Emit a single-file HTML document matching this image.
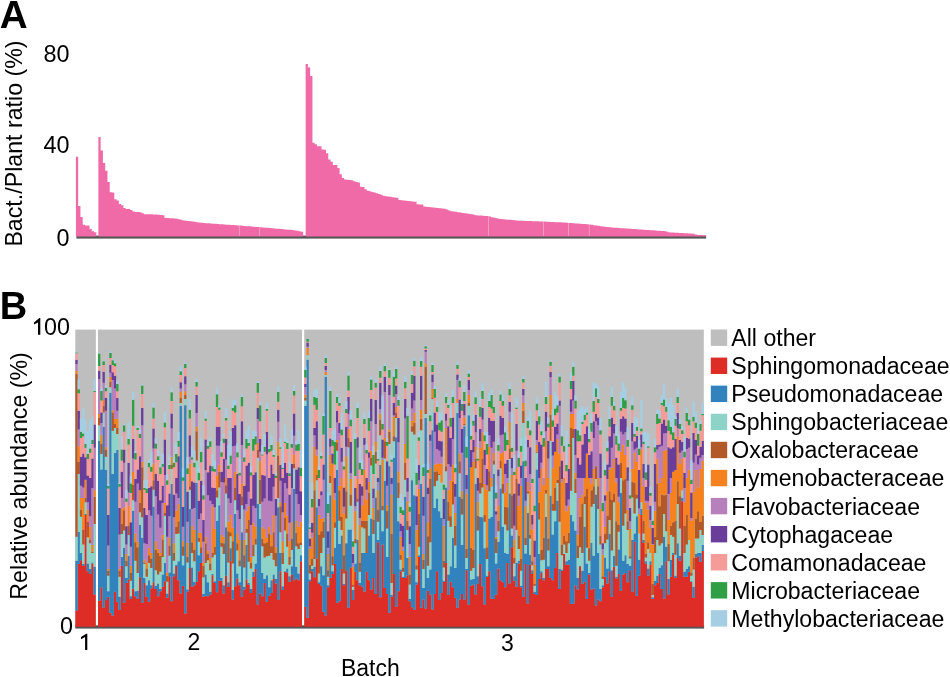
<!DOCTYPE html>
<html><head><meta charset="utf-8"><title>Figure</title>
<style>
html,body{margin:0;padding:0;background:#fff;overflow:hidden;}
svg{display:block;will-change:transform;}
text{font-family:"Liberation Sans",sans-serif;fill:#000;}
.r{font-size:23px;}
.b{font-size:38px;font-weight:bold;}
</style></head>
<body>
<svg width="950" height="677" viewBox="0 0 950 677">
<rect width="950" height="677" fill="#fff"/>
<text class="b" style="font-size:38.6px" x="-0.3" y="27.8">A</text>
<text class="b" style="font-size:38px" x="-0.2" y="319.2">B</text>
<text class="r" style="font-size:23.2px" transform="translate(22.4,143.5) rotate(-90)" text-anchor="middle">Bact./Plant ratio (%)</text>
<text class="r" style="font-size:23.4px" x="69.5" y="62" text-anchor="end">80</text>
<text class="r" style="font-size:23.4px" x="69.5" y="153.3" text-anchor="end">40</text>
<text class="r" style="font-size:23.4px" x="69.6" y="245.7" text-anchor="end">0</text>
<rect x="76.4" y="235.6" width="629.7" height="3" fill="#555"/>
<path d="M75.90 236.50L75.90 156.80 L78.17 156.80L78.17 205.90 L80.43 205.90L80.43 217.00 L82.70 217.00L82.70 224.80 L84.97 224.80L84.97 225.40 L87.23 225.40L87.23 225.40 L89.50 225.40L89.50 229.00 L91.77 229.00L91.77 231.20 L94.04 231.20L94.04 232.20 L96.30 232.20L96.30 236.50Z M98.37 236.50L98.37 137.10 L100.65 137.10L100.65 150.40 L102.92 150.40L102.92 163.10 L105.20 163.10L105.20 170.80 L107.47 170.80L107.47 182.10 L109.75 182.10L109.75 192.30 L112.03 192.30L112.03 192.60 L114.30 192.60L114.30 199.30 L116.58 199.30L116.58 200.50 L118.85 200.50L118.85 203.90 L121.13 203.90L121.13 205.30 L123.40 205.30L123.40 208.10 L125.68 208.10L125.68 208.90 L127.96 208.90L127.96 208.90 L130.23 208.90L130.23 210.00 L132.51 210.00L132.51 211.40 L134.78 211.40L134.78 212.06 L137.06 212.06L137.06 212.11 L139.34 212.11L139.34 212.17 L141.61 212.17L141.61 213.25 L143.89 213.25L143.89 214.22 L146.16 214.22L146.16 214.27 L148.44 214.27L148.44 214.31 L150.72 214.31L150.72 214.35 L152.99 214.35L152.99 214.40 L155.27 214.40L155.27 214.58 L157.54 214.58L157.54 214.76 L159.82 214.76L159.82 214.95 L162.09 214.95L162.09 215.13 L164.37 215.13L164.37 217.71 L166.65 217.71L166.65 217.92 L168.92 217.92L168.92 218.13 L171.20 218.13L171.20 218.34 L173.47 218.34L173.47 218.55 L175.75 218.55L175.75 218.76 L178.03 218.76L178.03 219.13 L180.30 219.13L180.30 219.82 L182.58 219.82L182.58 220.50 L184.85 220.50L184.85 220.78 L187.13 220.78L187.13 221.05 L189.41 221.05L189.41 221.32 L191.68 221.32L191.68 221.60 L193.96 221.60L193.96 221.87 L196.23 221.87L196.23 222.14 L198.51 222.14L198.51 222.42 L200.78 222.42L200.78 222.65 L203.06 222.65L203.06 222.89 L205.34 222.89L205.34 223.13 L207.61 223.13L207.61 223.37 L209.89 223.37L209.89 223.57 L212.16 223.57L212.16 223.72 L214.44 223.72L214.44 223.87 L216.72 223.87L216.72 224.03 L218.99 224.03L218.99 224.18 L221.27 224.18L221.27 224.33 L223.54 224.33L223.54 224.48 L225.82 224.48L225.82 224.63 L228.10 224.63L228.10 224.79 L230.37 224.79L230.37 224.94 L232.65 224.94L232.65 225.09 L234.92 225.09L234.92 225.24 L237.20 225.24L237.20 225.40 L239.48 225.40L239.48 225.58 L241.75 225.58L241.75 225.77 L244.03 225.77L244.03 225.95 L246.30 225.95L246.30 226.14 L248.58 226.14L248.58 226.33 L250.85 226.33L250.85 226.51 L253.13 226.51L253.13 226.70 L255.41 226.70L255.41 226.88 L257.68 226.88L257.68 227.07 L259.96 227.07L259.96 227.26 L262.23 227.26L262.23 227.44 L264.51 227.44L264.51 227.63 L266.79 227.63L266.79 227.83 L269.06 227.83L269.06 228.04 L271.34 228.04L271.34 228.24 L273.61 228.24L273.61 228.45 L275.89 228.45L275.89 228.65 L278.17 228.65L278.17 228.85 L280.44 228.85L280.44 229.06 L282.72 229.06L282.72 229.26 L284.99 229.26L284.99 229.47 L287.27 229.47L287.27 229.67 L289.54 229.67L289.54 229.87 L291.82 229.87L291.82 230.12 L294.10 230.12L294.10 230.43 L296.37 230.43L296.37 230.73 L298.65 230.73L298.65 231.27 L300.92 231.27L300.92 231.87 L303.20 231.87L303.20 236.50Z M305.65 236.50L305.65 64.00 L307.91 64.00L307.91 67.60 L310.17 67.60L310.17 76.00 L312.44 76.00L312.44 142.82 L314.70 142.82L314.70 144.22 L316.96 144.22L316.96 146.16 L319.22 146.16L319.22 146.26 L321.49 146.26L321.49 149.57 L323.75 149.57L323.75 149.68 L326.01 149.68L326.01 153.19 L328.27 153.19L328.27 159.39 L330.54 159.39L330.54 161.63 L332.80 161.63L332.80 164.95 L335.06 164.95L335.06 165.06 L337.32 165.06L337.32 168.06 L339.59 168.06L339.59 174.17 L341.85 174.17L341.85 177.92 L344.11 177.92L344.11 179.61 L346.37 179.61L346.37 179.82 L348.64 179.82L348.64 180.03 L350.90 180.03L350.90 180.24 L353.16 180.24L353.16 181.29 L355.42 181.29L355.42 181.95 L357.69 181.95L357.69 182.62 L359.95 182.62L359.95 186.81 L362.21 186.81L362.21 186.98 L364.47 186.98L364.47 189.21 L366.74 189.21L366.74 190.76 L369.00 190.76L369.00 191.36 L371.26 191.36L371.26 191.96 L373.52 191.96L373.52 192.56 L375.79 192.56L375.79 193.22 L378.05 193.22L378.05 194.03 L380.31 194.03L380.31 194.84 L382.57 194.84L382.57 195.64 L384.84 195.64L384.84 196.18 L387.10 196.18L387.10 196.50 L389.36 196.50L389.36 196.83 L391.62 196.83L391.62 197.15 L393.88 197.15L393.88 197.47 L396.15 197.47L396.15 197.80 L398.41 197.80L398.41 200.06 L400.67 200.06L400.67 200.29 L402.93 200.29L402.93 200.53 L405.20 200.53L405.20 200.76 L407.46 200.76L407.46 201.00 L409.72 201.00L409.72 201.23 L411.98 201.23L411.98 201.47 L414.25 201.47L414.25 201.70 L416.51 201.70L416.51 204.33 L418.77 204.33L418.77 204.44 L421.03 204.44L421.03 204.54 L423.30 204.54L423.30 206.58 L425.56 206.58L425.56 206.83 L427.82 206.83L427.82 207.08 L430.08 207.08L430.08 207.33 L432.35 207.33L432.35 207.58 L434.61 207.58L434.61 207.83 L436.87 207.83L436.87 208.07 L439.13 208.07L439.13 208.32 L441.40 208.32L441.40 208.57 L443.66 208.57L443.66 208.82 L445.92 208.82L445.92 209.55 L448.18 209.55L448.18 210.50 L450.45 210.50L450.45 211.17 L452.71 211.17L452.71 211.51 L454.97 211.51L454.97 211.86 L457.23 211.86L457.23 212.21 L459.50 212.21L459.50 212.56 L461.76 212.56L461.76 212.91 L464.02 212.91L464.02 213.25 L466.28 213.25L466.28 213.60 L468.54 213.60L468.54 213.98 L470.81 213.98L470.81 214.36 L473.07 214.36L473.07 214.74 L475.33 214.74L475.33 215.13 L477.59 215.13L477.59 215.39 L479.86 215.39L479.86 215.56 L482.12 215.56L482.12 215.72 L484.38 215.72L484.38 215.89 L486.64 215.89L486.64 216.05 L488.91 216.05L488.91 216.54 L491.17 216.54L491.17 217.15 L493.43 217.15L493.43 217.76 L495.69 217.76L495.69 218.36 L497.96 218.36L497.96 218.74 L500.22 218.74L500.22 218.96 L502.48 218.96L502.48 219.19 L504.74 219.19L504.74 219.41 L507.01 219.41L507.01 219.63 L509.27 219.63L509.27 219.86 L511.53 219.86L511.53 220.08 L513.79 220.08L513.79 220.31 L516.06 220.31L516.06 220.53 L518.32 220.53L518.32 220.66 L520.58 220.66L520.58 220.74 L522.84 220.74L522.84 220.82 L525.11 220.82L525.11 220.90 L527.37 220.90L527.37 220.98 L529.63 220.98L529.63 221.06 L531.89 221.06L531.89 221.14 L534.16 221.14L534.16 221.22 L536.42 221.22L536.42 221.30 L538.68 221.30L538.68 221.38 L540.94 221.38L540.94 221.46 L543.21 221.46L543.21 221.56 L545.47 221.56L545.47 221.67 L547.73 221.67L547.73 221.79 L549.99 221.79L549.99 221.90 L552.25 221.90L552.25 222.02 L554.52 222.02L554.52 222.13 L556.78 222.13L556.78 222.25 L559.04 222.25L559.04 222.36 L561.30 222.36L561.30 222.48 L563.57 222.48L563.57 222.59 L565.83 222.59L565.83 222.71 L568.09 222.71L568.09 222.89 L570.35 222.89L570.35 223.06 L572.62 223.06L572.62 223.24 L574.88 223.24L574.88 223.41 L577.14 223.41L577.14 223.59 L579.40 223.59L579.40 223.77 L581.67 223.77L581.67 223.94 L583.93 223.94L583.93 224.12 L586.19 224.12L586.19 224.29 L588.45 224.29L588.45 224.53 L590.72 224.53L590.72 224.85 L592.98 224.85L592.98 225.17 L595.24 225.17L595.24 225.50 L597.50 225.50L597.50 225.82 L599.77 225.82L599.77 226.14 L602.03 226.14L602.03 226.47 L604.29 226.47L604.29 226.79 L606.55 226.79L606.55 227.11 L608.82 227.11L608.82 227.36 L611.08 227.36L611.08 227.52 L613.34 227.52L613.34 227.67 L615.60 227.67L615.60 227.82 L617.87 227.82L617.87 227.97 L620.13 227.97L620.13 228.13 L622.39 228.13L622.39 228.28 L624.65 228.28L624.65 228.43 L626.91 228.43L626.91 228.58 L629.18 228.58L629.18 228.74 L631.44 228.74L631.44 228.89 L633.70 228.89L633.70 229.05 L635.96 229.05L635.96 229.21 L638.23 229.21L638.23 229.38 L640.49 229.38L640.49 229.55 L642.75 229.55L642.75 229.72 L645.01 229.72L645.01 229.88 L647.28 229.88L647.28 230.05 L649.54 230.05L649.54 230.19 L651.80 230.19L651.80 230.34 L654.06 230.34L654.06 230.49 L656.33 230.49L656.33 230.63 L658.59 230.63L658.59 230.78 L660.85 230.78L660.85 230.93 L663.11 230.93L663.11 231.07 L665.38 231.07L665.38 231.40 L667.64 231.40L667.64 232.35 L669.90 232.35L669.90 232.46 L672.16 232.46L672.16 232.58 L674.43 232.58L674.43 232.70 L676.69 232.70L676.69 232.82 L678.95 232.82L678.95 232.93 L681.21 232.93L681.21 233.05 L683.48 233.05L683.48 233.17 L685.74 233.17L685.74 233.29 L688.00 233.29L688.00 233.40 L690.26 233.40L690.26 233.52 L692.53 233.52L692.53 233.64 L694.79 233.64L694.79 234.49 L697.05 234.49L697.05 234.99 L699.31 234.99L699.31 235.11 L701.58 235.11L701.58 235.22 L703.84 235.22L703.84 235.34 L706.10 235.34L706.10 236.50Z" fill="#f06aa8"/>
<rect x="238.95" y="225.6" width="0.7" height="10.2" fill="#fff" opacity="0.45"/>
<rect x="259.05" y="227.2" width="0.7" height="8.6" fill="#fff" opacity="0.45"/>
<rect x="488.15" y="216.3" width="0.7" height="19.5" fill="#fff" opacity="0.45"/>
<rect x="543.05" y="221.6" width="0.7" height="14.2" fill="#fff" opacity="0.45"/>
<rect x="568.15" y="222.9" width="0.7" height="12.9" fill="#fff" opacity="0.45"/>
<rect x="588.85" y="224.6" width="0.7" height="11.2" fill="#fff" opacity="0.45"/>
<rect x="75.30" y="329.60" width="628.50" height="297.20" fill="#bebebe"/>
<rect x="95.85" y="328" width="2.12" height="299" fill="#fff"/>
<rect x="302" y="328" width="2.2" height="299" fill="#fff"/>
<rect x="75.3" y="625.3" width="628.8" height="3.3" fill="#555"/>
<path fill="#de2d26" d="M75.33 610.61h2.31v16.19h-2.31zM77.60 564.08h2.31v62.72h-2.31zM79.87 560.20h2.31v66.60h-2.31zM82.14 565.74h2.31v61.06h-2.31zM84.41 515.11h2.31v111.69h-2.31zM86.68 571.28h2.31v55.52h-2.31zM88.95 574.05h2.31v52.75h-2.31zM91.22 563.52h2.31v63.28h-2.31zM93.49 594.54h2.31v32.26h-2.31zM98.00 600.64h2.31v26.16h-2.31zM100.27 587.34h2.31v39.46h-2.31zM102.53 607.84h2.31v18.96h-2.31zM104.80 600.08h2.31v26.72h-2.31zM107.07 596.76h2.31v30.04h-2.31zM109.33 612.82h2.31v13.98h-2.31zM111.60 615.59h2.31v11.21h-2.31zM113.87 591.77h2.31v35.03h-2.31zM116.13 601.74h2.31v25.06h-2.31zM118.40 610.05h2.31v16.75h-2.31zM120.67 565.74h2.31v61.06h-2.31zM122.93 602.85h2.31v23.95h-2.31zM125.20 582.91h2.31v43.89h-2.31zM127.47 579.59h2.31v47.21h-2.31zM129.73 598.97h2.31v27.83h-2.31zM132.00 588.45h2.31v38.35h-2.31zM134.27 596.21h2.31v30.59h-2.31zM136.53 598.97h2.31v27.83h-2.31zM138.80 577.37h2.31v49.43h-2.31zM141.07 602.85h2.31v23.95h-2.31zM143.33 582.91h2.31v43.89h-2.31zM145.60 596.76h2.31v30.04h-2.31zM147.87 601.74h2.31v25.06h-2.31zM150.13 588.45h2.31v38.35h-2.31zM152.40 582.36h2.31v44.44h-2.31zM154.67 589.00h2.31v37.80h-2.31zM156.93 596.21h2.31v30.59h-2.31zM159.20 591.22h2.31v35.58h-2.31zM161.47 586.79h2.31v40.01h-2.31zM163.73 581.25h2.31v45.55h-2.31zM166.00 597.87h2.31v28.93h-2.31zM168.27 576.26h2.31v50.54h-2.31zM170.53 601.19h2.31v25.61h-2.31zM172.80 576.26h2.31v50.54h-2.31zM175.07 565.74h2.31v61.06h-2.31zM177.33 580.14h2.31v46.66h-2.31zM179.60 593.44h2.31v33.36h-2.31zM181.87 585.68h2.31v41.12h-2.31zM184.13 613.38h2.31v13.42h-2.31zM186.40 591.77h2.31v35.03h-2.31zM188.67 567.96h2.31v58.84h-2.31zM190.93 586.79h2.31v40.01h-2.31zM193.20 585.13h2.31v41.67h-2.31zM195.47 581.80h2.31v45.00h-2.31zM197.73 571.28h2.31v55.52h-2.31zM200.00 562.97h2.31v63.83h-2.31zM202.27 596.76h2.31v30.04h-2.31zM204.53 595.65h2.31v31.15h-2.31zM206.80 596.21h2.31v30.59h-2.31zM209.07 594.54h2.31v32.26h-2.31zM211.34 575.16h2.31v51.64h-2.31zM213.60 582.91h2.31v43.89h-2.31zM215.87 592.33h2.31v34.47h-2.31zM218.14 580.70h2.31v46.10h-2.31zM220.40 580.70h2.31v46.10h-2.31zM222.67 593.44h2.31v33.36h-2.31zM224.94 575.71h2.31v51.09h-2.31zM227.20 586.79h2.31v40.01h-2.31zM229.47 561.31h2.31v65.49h-2.31zM231.74 599.53h2.31v27.27h-2.31zM234.00 586.23h2.31v40.57h-2.31zM236.27 578.48h2.31v48.32h-2.31zM238.54 585.13h2.31v41.67h-2.31zM240.80 596.76h2.31v30.04h-2.31zM243.07 589.56h2.31v37.24h-2.31zM245.34 579.59h2.31v47.21h-2.31zM247.60 584.57h2.31v42.23h-2.31zM249.87 592.88h2.31v33.92h-2.31zM252.14 576.82h2.31v49.98h-2.31zM254.40 569.06h2.31v57.74h-2.31zM256.67 604.51h2.31v22.29h-2.31zM258.94 593.44h2.31v33.36h-2.31zM261.20 596.21h2.31v30.59h-2.31zM263.47 582.91h2.31v43.89h-2.31zM265.74 601.74h2.31v25.06h-2.31zM268.00 595.65h2.31v31.15h-2.31zM270.27 592.88h2.31v33.92h-2.31zM272.54 579.03h2.31v47.77h-2.31zM274.80 583.47h2.31v43.33h-2.31zM277.07 600.08h2.31v26.72h-2.31zM279.34 571.28h2.31v55.52h-2.31zM281.60 590.11h2.31v36.69h-2.31zM283.87 571.83h2.31v54.97h-2.31zM286.14 572.39h2.31v54.41h-2.31zM288.40 581.80h2.31v45.00h-2.31zM290.67 574.60h2.31v52.20h-2.31zM292.94 580.14h2.31v46.66h-2.31zM295.20 578.48h2.31v48.32h-2.31zM297.47 580.14h2.31v46.66h-2.31zM299.74 561.31h2.31v65.49h-2.31zM304.20 606.73h2.31v20.07h-2.31zM306.47 617.81h2.31v8.99h-2.31zM308.74 581.25h2.31v45.55h-2.31zM311.01 571.28h2.31v55.52h-2.31zM313.28 577.37h2.31v49.43h-2.31zM315.55 558.54h2.31v68.26h-2.31zM317.82 584.02h2.31v42.78h-2.31zM320.09 585.68h2.31v41.12h-2.31zM322.36 611.71h2.31v15.09h-2.31zM324.63 615.59h2.31v11.21h-2.31zM326.90 587.34h2.31v39.46h-2.31zM329.18 577.93h2.31v48.87h-2.31zM331.45 574.05h2.31v52.75h-2.31zM333.72 564.08h2.31v62.72h-2.31zM335.99 602.85h2.31v23.95h-2.31zM338.26 601.19h2.31v25.61h-2.31zM340.53 569.06h2.31v57.74h-2.31zM342.80 585.13h2.31v41.67h-2.31zM345.07 570.17h2.31v56.63h-2.31zM347.34 607.84h2.31v18.96h-2.31zM349.61 567.40h2.31v59.40h-2.31zM351.88 600.08h2.31v26.72h-2.31zM354.15 571.83h2.31v54.97h-2.31zM356.42 580.14h2.31v46.66h-2.31zM358.69 585.13h2.31v41.67h-2.31zM360.96 586.79h2.31v40.01h-2.31zM363.23 591.77h2.31v35.03h-2.31zM365.50 571.83h2.31v54.97h-2.31zM367.77 580.14h2.31v46.66h-2.31zM370.04 589.56h2.31v37.24h-2.31zM372.31 577.93h2.31v48.87h-2.31zM374.59 593.99h2.31v32.81h-2.31zM376.86 542.25h2.31v84.55h-2.31zM379.13 597.31h2.31v29.49h-2.31zM381.40 544.47h2.31v82.33h-2.31zM383.67 587.90h2.31v38.90h-2.31zM385.94 593.99h2.31v32.81h-2.31zM388.21 612.82h2.31v13.98h-2.31zM390.48 596.76h2.31v30.04h-2.31zM392.75 574.05h2.31v52.75h-2.31zM395.02 606.73h2.31v20.07h-2.31zM397.29 591.22h2.31v35.58h-2.31zM399.56 571.28h2.31v55.52h-2.31zM401.83 577.93h2.31v48.87h-2.31zM404.10 577.93h2.31v48.87h-2.31zM406.37 575.16h2.31v51.64h-2.31zM408.64 601.19h2.31v25.61h-2.31zM410.91 607.28h2.31v19.52h-2.31zM413.18 610.05h2.31v16.75h-2.31zM415.45 584.57h2.31v42.23h-2.31zM417.73 556.88h2.31v69.92h-2.31zM420.00 607.84h2.31v18.96h-2.31zM422.27 599.53h2.31v27.27h-2.31zM424.54 608.39h2.31v18.41h-2.31zM426.81 590.67h2.31v36.13h-2.31zM429.08 594.54h2.31v32.26h-2.31zM431.35 609.50h2.31v17.30h-2.31zM433.62 593.99h2.31v32.81h-2.31zM435.89 571.28h2.31v55.52h-2.31zM438.16 600.08h2.31v26.72h-2.31zM440.43 592.88h2.31v33.92h-2.31zM442.70 581.80h2.31v45.00h-2.31zM444.97 562.97h2.31v63.83h-2.31zM447.24 595.10h2.31v31.70h-2.31zM449.51 581.80h2.31v45.00h-2.31zM451.78 587.34h2.31v39.46h-2.31zM454.05 597.87h2.31v28.93h-2.31zM456.32 607.84h2.31v18.96h-2.31zM458.59 599.53h2.31v27.27h-2.31zM460.86 593.99h2.31v32.81h-2.31zM463.13 599.53h2.31v27.27h-2.31zM465.41 570.17h2.31v56.63h-2.31zM467.68 604.51h2.31v22.29h-2.31zM469.95 585.68h2.31v41.12h-2.31zM472.22 584.57h2.31v42.23h-2.31zM474.49 594.54h2.31v32.26h-2.31zM476.76 584.02h2.31v42.78h-2.31zM479.03 564.08h2.31v62.72h-2.31zM481.30 586.23h2.31v40.57h-2.31zM483.57 604.51h2.31v22.29h-2.31zM485.84 576.82h2.31v49.98h-2.31zM488.11 571.28h2.31v55.52h-2.31zM490.38 598.42h2.31v28.38h-2.31zM492.65 598.97h2.31v27.83h-2.31zM494.92 594.54h2.31v32.26h-2.31zM497.19 568.51h2.31v58.29h-2.31zM499.46 580.14h2.31v46.66h-2.31zM501.73 582.36h2.31v44.44h-2.31zM504.00 587.34h2.31v39.46h-2.31zM506.27 562.97h2.31v63.83h-2.31zM508.55 583.47h2.31v43.33h-2.31zM510.82 547.24h2.31v79.56h-2.31zM513.09 580.70h2.31v46.10h-2.31zM515.36 586.79h2.31v40.01h-2.31zM517.63 563.52h2.31v63.28h-2.31zM519.90 587.34h2.31v39.46h-2.31zM522.17 596.76h2.31v30.04h-2.31zM524.44 564.08h2.31v62.72h-2.31zM526.71 603.41h2.31v23.39h-2.31zM528.98 564.63h2.31v62.17h-2.31zM531.25 574.05h2.31v52.75h-2.31zM533.52 593.99h2.31v32.81h-2.31zM535.79 595.10h2.31v31.70h-2.31zM538.06 579.03h2.31v47.77h-2.31zM540.33 572.39h2.31v54.41h-2.31zM542.60 580.14h2.31v46.66h-2.31zM544.87 569.06h2.31v57.74h-2.31zM547.14 569.06h2.31v57.74h-2.31zM549.41 577.93h2.31v48.87h-2.31zM551.68 580.14h2.31v46.66h-2.31zM553.96 567.96h2.31v58.84h-2.31zM556.23 553.00h2.31v73.80h-2.31zM558.50 589.00h2.31v37.80h-2.31zM560.77 570.73h2.31v56.07h-2.31zM563.04 554.11h2.31v72.69h-2.31zM565.31 564.63h2.31v62.17h-2.31zM567.58 564.63h2.31v62.17h-2.31zM569.85 603.96h2.31v22.84h-2.31zM572.12 603.41h2.31v23.39h-2.31zM574.39 585.13h2.31v41.67h-2.31zM576.66 589.56h2.31v37.24h-2.31zM578.93 566.29h2.31v60.51h-2.31zM581.20 584.02h2.31v42.78h-2.31zM583.47 581.80h2.31v45.00h-2.31zM585.74 598.97h2.31v27.83h-2.31zM588.01 574.60h2.31v52.20h-2.31zM590.28 589.56h2.31v37.24h-2.31zM592.55 588.45h2.31v38.35h-2.31zM594.82 605.62h2.31v21.18h-2.31zM597.09 599.53h2.31v27.27h-2.31zM599.37 601.19h2.31v25.61h-2.31zM601.64 587.34h2.31v39.46h-2.31zM603.91 576.82h2.31v49.98h-2.31zM606.18 583.47h2.31v43.33h-2.31zM608.45 571.28h2.31v55.52h-2.31zM610.72 596.76h2.31v30.04h-2.31zM612.99 566.85h2.31v59.95h-2.31zM615.26 578.48h2.31v48.32h-2.31zM617.53 574.05h2.31v52.75h-2.31zM619.80 590.67h2.31v36.13h-2.31zM622.07 574.60h2.31v52.20h-2.31zM624.34 572.94h2.31v53.86h-2.31zM626.61 582.36h2.31v44.44h-2.31zM628.88 570.17h2.31v56.63h-2.31zM631.15 591.77h2.31v35.03h-2.31zM633.42 541.70h2.31v85.10h-2.31zM635.69 595.65h2.31v31.15h-2.31zM637.96 575.71h2.31v51.09h-2.31zM640.23 515.11h2.31v111.69h-2.31zM642.50 542.81h2.31v83.99h-2.31zM644.78 563.52h2.31v63.28h-2.31zM647.05 575.71h2.31v51.09h-2.31zM649.32 564.63h2.31v62.17h-2.31zM651.59 598.97h2.31v27.83h-2.31zM653.86 585.13h2.31v41.67h-2.31zM656.13 582.91h2.31v43.89h-2.31zM658.40 574.05h2.31v52.75h-2.31zM660.67 589.00h2.31v37.80h-2.31zM662.94 598.42h2.31v28.38h-2.31zM665.21 561.31h2.31v65.49h-2.31zM667.48 594.54h2.31v32.26h-2.31zM669.75 576.82h2.31v49.98h-2.31zM672.02 554.66h2.31v72.14h-2.31zM674.29 577.93h2.31v48.87h-2.31zM676.56 557.99h2.31v68.81h-2.31zM678.83 560.75h2.31v66.05h-2.31zM681.10 501.26h2.31v125.54h-2.31zM683.37 576.82h2.31v49.98h-2.31zM685.64 576.82h2.31v49.98h-2.31zM687.91 571.83h2.31v54.97h-2.31zM690.18 581.80h2.31v45.00h-2.31zM692.46 597.87h2.31v28.93h-2.31zM694.73 557.43h2.31v69.37h-2.31zM697.00 556.32h2.31v70.48h-2.31zM699.27 561.86h2.31v64.94h-2.31zM701.54 551.12h2.31v75.68h-2.31z"/>
<path fill="#3182bd" d="M75.33 560.75h2.31v49.86h-2.31zM77.60 531.73h2.31v32.35h-2.31zM79.87 553.00h2.31v7.20h-2.31zM82.14 564.08h2.31v1.66h-2.31zM84.41 514.00h2.31v1.11h-2.31zM86.68 563.52h2.31v7.76h-2.31zM88.95 569.06h2.31v4.99h-2.31zM91.22 562.42h2.31v1.10h-2.31zM93.49 566.85h2.31v27.69h-2.31zM98.00 440.67h2.31v159.97h-2.31zM100.27 469.47h2.31v117.87h-2.31zM102.53 426.82h2.31v181.02h-2.31zM104.80 470.02h2.31v130.06h-2.31zM107.07 591.22h2.31v5.54h-2.31zM109.33 392.81h2.31v220.01h-2.31zM111.60 473.90h2.31v141.69h-2.31zM113.87 452.85h2.31v138.92h-2.31zM116.13 450.08h2.31v151.66h-2.31zM118.40 596.76h2.31v13.29h-2.31zM120.67 556.88h2.31v8.86h-2.31zM122.93 547.79h2.31v55.06h-2.31zM125.20 577.93h2.31v4.98h-2.31zM127.47 555.77h2.31v23.82h-2.31zM129.73 596.21h2.31v2.76h-2.31zM132.00 510.68h2.31v77.77h-2.31zM134.27 591.22h2.31v4.99h-2.31zM136.53 590.67h2.31v8.30h-2.31zM138.80 525.08h2.31v52.29h-2.31zM141.07 537.82h2.31v65.03h-2.31zM143.33 577.93h2.31v4.98h-2.31zM145.60 585.13h2.31v11.63h-2.31zM147.87 580.14h2.31v21.60h-2.31zM150.13 585.13h2.31v3.32h-2.31zM152.40 506.80h2.31v75.56h-2.31zM154.67 585.68h2.31v3.32h-2.31zM156.93 583.47h2.31v12.74h-2.31zM159.20 589.00h2.31v2.22h-2.31zM161.47 574.60h2.31v12.19h-2.31zM163.73 562.97h2.31v18.28h-2.31zM166.00 593.44h2.31v4.43h-2.31zM168.27 572.39h2.31v3.87h-2.31zM170.53 484.09h2.31v117.10h-2.31zM172.80 573.49h2.31v2.77h-2.31zM175.07 564.63h2.31v1.11h-2.31zM177.33 561.31h2.31v18.83h-2.31zM179.60 405.77h2.31v187.67h-2.31zM181.87 565.19h2.31v20.49h-2.31zM184.13 405.22h2.31v208.16h-2.31zM186.40 589.56h2.31v2.21h-2.31zM188.67 509.02h2.31v58.94h-2.31zM190.93 567.40h2.31v19.39h-2.31zM193.20 581.80h2.31v3.33h-2.31zM195.47 482.99h2.31v98.81h-2.31zM197.73 555.22h2.31v16.06h-2.31zM200.00 553.00h2.31v9.97h-2.31zM202.27 593.99h2.31v2.77h-2.31zM204.53 574.60h2.31v21.05h-2.31zM206.80 582.36h2.31v13.85h-2.31zM209.07 591.77h2.31v2.77h-2.31zM211.34 574.05h2.31v1.11h-2.31zM213.60 581.25h2.31v1.66h-2.31zM215.87 520.65h2.31v71.68h-2.31zM218.14 505.14h2.31v75.56h-2.31zM220.40 577.93h2.31v2.77h-2.31zM222.67 585.13h2.31v8.31h-2.31zM224.94 527.30h2.31v48.41h-2.31zM227.20 582.36h2.31v4.43h-2.31zM229.47 548.35h2.31v12.96h-2.31zM231.74 590.11h2.31v9.42h-2.31zM234.00 514.00h2.31v72.23h-2.31zM236.27 573.49h2.31v4.99h-2.31zM238.54 582.36h2.31v2.77h-2.31zM240.80 532.28h2.31v64.48h-2.31zM243.07 586.79h2.31v2.77h-2.31zM245.34 545.02h2.31v34.57h-2.31zM247.60 582.91h2.31v1.66h-2.31zM249.87 589.00h2.31v3.88h-2.31zM252.14 571.83h2.31v4.99h-2.31zM254.40 563.52h2.31v5.54h-2.31zM256.67 504.03h2.31v100.48h-2.31zM258.94 518.99h2.31v74.45h-2.31zM261.20 572.94h2.31v23.27h-2.31zM263.47 579.03h2.31v3.88h-2.31zM265.74 575.16h2.31v26.58h-2.31zM268.00 587.34h2.31v8.31h-2.31zM270.27 580.14h2.31v12.74h-2.31zM272.54 574.60h2.31v4.43h-2.31zM274.80 579.03h2.31v4.44h-2.31zM277.07 507.36h2.31v92.72h-2.31zM279.34 553.00h2.31v18.28h-2.31zM281.60 586.23h2.31v3.88h-2.31zM283.87 571.28h2.31v0.55h-2.31zM286.14 568.51h2.31v3.88h-2.31zM288.40 576.26h2.31v5.54h-2.31zM290.67 566.29h2.31v8.31h-2.31zM292.94 489.08h2.31v91.06h-2.31zM295.20 566.85h2.31v11.63h-2.31zM297.47 573.49h2.31v6.65h-2.31zM299.74 555.22h2.31v6.09h-2.31zM304.20 405.77h2.31v200.96h-2.31zM306.47 359.79h2.31v258.02h-2.31zM308.74 579.59h2.31v1.66h-2.31zM311.01 569.06h2.31v2.22h-2.31zM313.28 566.85h2.31v10.52h-2.31zM315.55 507.36h2.31v51.18h-2.31zM317.82 582.36h2.31v1.66h-2.31zM320.09 566.29h2.31v19.39h-2.31zM322.36 575.16h2.31v36.55h-2.31zM324.63 376.74h2.31v238.85h-2.31zM326.90 585.13h2.31v2.21h-2.31zM329.18 495.17h2.31v82.76h-2.31zM331.45 571.28h2.31v2.77h-2.31zM333.72 547.79h2.31v16.29h-2.31zM335.99 470.02h2.31v132.83h-2.31zM338.26 543.92h2.31v57.27h-2.31zM340.53 535.61h2.31v33.45h-2.31zM342.80 584.02h2.31v1.11h-2.31zM345.07 543.36h2.31v26.81h-2.31zM347.34 529.51h2.31v78.33h-2.31zM349.61 529.51h2.31v37.89h-2.31zM351.88 590.11h2.31v9.97h-2.31zM354.15 563.52h2.31v8.31h-2.31zM356.42 540.04h2.31v40.10h-2.31zM358.69 582.91h2.31v2.22h-2.31zM360.96 553.00h2.31v33.79h-2.31zM363.23 553.00h2.31v38.77h-2.31zM365.50 553.00h2.31v18.83h-2.31zM367.77 535.61h2.31v44.53h-2.31zM370.04 518.44h2.31v71.12h-2.31zM372.31 553.00h2.31v24.93h-2.31zM374.59 497.39h2.31v96.60h-2.31zM376.86 540.04h2.31v2.21h-2.31zM379.13 465.04h2.31v132.27h-2.31zM381.40 531.18h2.31v13.29h-2.31zM383.67 480.77h2.31v107.13h-2.31zM385.94 556.88h2.31v37.11h-2.31zM388.21 466.15h2.31v146.67h-2.31zM390.48 595.10h2.31v1.66h-2.31zM392.75 457.84h2.31v116.21h-2.31zM395.02 437.34h2.31v169.39h-2.31zM397.29 521.21h2.31v70.01h-2.31zM399.56 569.62h2.31v1.66h-2.31zM401.83 576.82h2.31v1.11h-2.31zM404.10 496.83h2.31v81.10h-2.31zM406.37 557.99h2.31v17.17h-2.31zM408.64 598.97h2.31v2.22h-2.31zM410.91 480.22h2.31v127.06h-2.31zM413.18 495.17h2.31v114.88h-2.31zM415.45 582.36h2.31v2.21h-2.31zM417.73 555.22h2.31v1.66h-2.31zM420.00 484.09h2.31v123.75h-2.31zM422.27 587.90h2.31v11.63h-2.31zM424.54 417.96h2.31v190.43h-2.31zM426.81 577.93h2.31v12.74h-2.31zM429.08 569.62h2.31v24.92h-2.31zM431.35 430.14h2.31v179.36h-2.31zM433.62 507.91h2.31v86.08h-2.31zM435.89 498.49h2.31v72.79h-2.31zM438.16 511.23h2.31v88.85h-2.31zM440.43 517.88h2.31v75.00h-2.31zM442.70 580.70h2.31v1.10h-2.31zM444.97 487.42h2.31v75.55h-2.31zM447.24 574.60h2.31v20.50h-2.31zM449.51 566.29h2.31v15.51h-2.31zM451.78 537.82h2.31v49.52h-2.31zM454.05 567.96h2.31v29.91h-2.31zM456.32 412.97h2.31v194.87h-2.31zM458.59 496.83h2.31v102.70h-2.31zM460.86 545.02h2.31v48.97h-2.31zM463.13 426.26h2.31v173.27h-2.31zM465.41 569.06h2.31v1.11h-2.31zM467.68 415.19h2.31v189.32h-2.31zM469.95 579.59h2.31v6.09h-2.31zM472.22 579.03h2.31v5.54h-2.31zM474.49 484.09h2.31v110.45h-2.31zM476.76 576.26h2.31v7.76h-2.31zM479.03 516.77h2.31v47.31h-2.31zM481.30 517.33h2.31v68.90h-2.31zM483.57 548.35h2.31v56.16h-2.31zM485.84 575.71h2.31v1.11h-2.31zM488.11 518.44h2.31v52.84h-2.31zM490.38 516.77h2.31v81.65h-2.31zM492.65 473.90h2.31v125.07h-2.31zM494.92 563.52h2.31v31.02h-2.31zM497.19 541.70h2.31v26.81h-2.31zM499.46 488.52h2.31v91.62h-2.31zM501.73 526.74h2.31v55.62h-2.31zM504.00 553.00h2.31v34.34h-2.31zM506.27 554.11h2.31v8.86h-2.31zM508.55 493.51h2.31v89.96h-2.31zM510.82 535.61h2.31v11.63h-2.31zM513.09 576.26h2.31v4.44h-2.31zM515.36 562.97h2.31v23.82h-2.31zM517.63 560.75h2.31v2.77h-2.31zM519.90 585.68h2.31v1.66h-2.31zM522.17 461.16h2.31v135.60h-2.31zM524.44 553.55h2.31v10.53h-2.31zM526.71 512.90h2.31v90.51h-2.31zM528.98 554.66h2.31v9.97h-2.31zM531.25 570.17h2.31v3.88h-2.31zM533.52 591.77h2.31v2.22h-2.31zM535.79 469.47h2.31v125.63h-2.31zM538.06 554.11h2.31v24.92h-2.31zM540.33 571.28h2.31v1.11h-2.31zM542.60 577.93h2.31v2.21h-2.31zM544.87 516.77h2.31v52.29h-2.31zM547.14 566.29h2.31v2.77h-2.31zM549.41 495.73h2.31v82.20h-2.31zM551.68 534.50h2.31v45.64h-2.31zM553.96 521.21h2.31v46.75h-2.31zM556.23 500.71h2.31v52.29h-2.31zM558.50 569.06h2.31v19.94h-2.31zM560.77 569.62h2.31v1.11h-2.31zM565.31 561.31h2.31v3.32h-2.31zM567.58 559.65h2.31v4.98h-2.31zM569.85 515.11h2.31v88.85h-2.31zM572.12 521.21h2.31v82.20h-2.31zM574.39 530.62h2.31v54.51h-2.31zM576.66 577.93h2.31v11.63h-2.31zM578.93 565.74h2.31v0.55h-2.31zM581.20 570.73h2.31v13.29h-2.31zM583.47 526.74h2.31v55.06h-2.31zM585.74 563.52h2.31v35.45h-2.31zM588.01 572.94h2.31v1.66h-2.31zM590.28 542.81h2.31v46.75h-2.31zM592.55 555.77h2.31v32.68h-2.31zM594.82 494.62h2.31v111.00h-2.31zM597.09 553.00h2.31v46.53h-2.31zM599.37 589.00h2.31v12.19h-2.31zM601.64 585.13h2.31v2.21h-2.31zM603.91 557.43h2.31v19.39h-2.31zM606.18 568.51h2.31v14.96h-2.31zM608.45 533.95h2.31v37.33h-2.31zM610.72 570.17h2.31v26.59h-2.31zM612.99 555.77h2.31v11.08h-2.31zM615.26 576.82h2.31v1.66h-2.31zM617.53 549.45h2.31v24.60h-2.31zM619.80 492.96h2.31v97.71h-2.31zM622.07 560.75h2.31v13.85h-2.31zM624.34 555.22h2.31v17.72h-2.31zM626.61 564.08h2.31v18.28h-2.31zM628.88 565.74h2.31v4.43h-2.31zM631.15 540.04h2.31v51.73h-2.31zM633.42 533.39h2.31v8.31h-2.31zM635.69 516.22h2.31v79.43h-2.31zM637.96 559.65h2.31v16.06h-2.31zM640.23 509.02h2.31v6.09h-2.31zM642.50 540.04h2.31v2.77h-2.31zM644.78 561.31h2.31v2.21h-2.31zM647.05 568.51h2.31v7.20h-2.31zM649.32 561.31h2.31v3.32h-2.31zM651.59 597.31h2.31v1.66h-2.31zM653.86 580.70h2.31v4.43h-2.31zM656.13 575.71h2.31v7.20h-2.31zM658.40 567.96h2.31v6.09h-2.31zM660.67 565.19h2.31v23.81h-2.31zM662.94 536.71h2.31v61.71h-2.31zM665.21 546.69h2.31v14.62h-2.31zM667.48 579.03h2.31v15.51h-2.31zM669.75 559.65h2.31v17.17h-2.31zM672.02 553.00h2.31v1.66h-2.31zM674.29 575.71h2.31v2.22h-2.31zM676.56 543.36h2.31v14.63h-2.31zM678.83 555.77h2.31v4.98h-2.31zM681.10 497.94h2.31v3.32h-2.31zM683.37 571.83h2.31v4.99h-2.31zM685.64 569.06h2.31v7.76h-2.31zM687.91 566.29h2.31v5.54h-2.31zM690.18 581.25h2.31v0.55h-2.31zM692.46 586.79h2.31v11.08h-2.31zM694.73 554.11h2.31v3.32h-2.31zM697.00 553.00h2.31v3.32h-2.31zM699.27 553.00h2.31v8.86h-2.31zM701.54 545.02h2.31v6.10h-2.31z"/>
<path fill="#8dd3c7" d="M75.33 536.71h2.31v24.04h-2.31zM77.60 473.90h2.31v57.83h-2.31zM79.87 516.77h2.31v36.23h-2.31zM82.14 544.47h2.31v19.61h-2.31zM84.41 502.37h2.31v11.63h-2.31zM86.68 537.27h2.31v26.25h-2.31zM88.95 543.36h2.31v25.70h-2.31zM91.22 553.00h2.31v9.42h-2.31zM93.49 523.97h2.31v42.88h-2.31zM98.00 425.16h2.31v15.51h-2.31zM100.27 453.96h2.31v15.51h-2.31zM102.53 412.42h2.31v14.40h-2.31zM104.80 456.73h2.31v13.29h-2.31zM107.07 575.71h2.31v15.51h-2.31zM109.33 387.27h2.31v5.54h-2.31zM111.60 430.70h2.31v43.20h-2.31zM113.87 427.93h2.31v24.92h-2.31zM116.13 434.02h2.31v16.06h-2.31zM118.40 576.82h2.31v19.94h-2.31zM120.67 533.95h2.31v22.93h-2.31zM122.93 530.62h2.31v17.17h-2.31zM125.20 566.29h2.31v11.64h-2.31zM127.47 535.05h2.31v20.72h-2.31zM129.73 580.70h2.31v15.51h-2.31zM132.00 500.16h2.31v10.52h-2.31zM134.27 560.75h2.31v30.47h-2.31zM136.53 572.94h2.31v17.73h-2.31zM138.80 512.34h2.31v12.74h-2.31zM141.07 517.33h2.31v20.49h-2.31zM143.33 564.08h2.31v13.85h-2.31zM145.60 576.82h2.31v8.31h-2.31zM147.87 562.97h2.31v17.17h-2.31zM150.13 567.96h2.31v17.17h-2.31zM152.40 489.63h2.31v17.17h-2.31zM154.67 570.17h2.31v15.51h-2.31zM156.93 574.60h2.31v8.87h-2.31zM159.20 571.83h2.31v17.17h-2.31zM161.47 556.88h2.31v17.72h-2.31zM163.73 515.67h2.31v47.30h-2.31zM166.00 581.80h2.31v11.64h-2.31zM168.27 555.77h2.31v16.62h-2.31zM170.53 468.92h2.31v15.17h-2.31zM172.80 560.75h2.31v12.74h-2.31zM175.07 533.95h2.31v30.68h-2.31zM177.33 533.39h2.31v27.92h-2.31zM179.60 403.00h2.31v2.77h-2.31zM181.87 555.77h2.31v9.42h-2.31zM184.13 398.90h2.31v6.32h-2.31zM186.40 562.42h2.31v27.14h-2.31zM188.67 489.63h2.31v19.39h-2.31zM190.93 553.00h2.31v14.40h-2.31zM193.20 561.31h2.31v20.49h-2.31zM195.47 460.61h2.31v22.38h-2.31zM197.73 541.70h2.31v13.52h-2.31zM202.27 577.37h2.31v16.62h-2.31zM204.53 562.97h2.31v11.63h-2.31zM206.80 560.20h2.31v22.16h-2.31zM209.07 570.17h2.31v21.60h-2.31zM211.34 557.43h2.31v16.62h-2.31zM213.60 554.66h2.31v26.59h-2.31zM215.87 497.39h2.31v23.26h-2.31zM218.14 487.42h2.31v17.72h-2.31zM220.40 546.69h2.31v31.24h-2.31zM222.67 554.11h2.31v31.02h-2.31zM224.94 493.51h2.31v33.79h-2.31zM227.20 562.42h2.31v19.94h-2.31zM229.47 536.16h2.31v12.19h-2.31zM231.74 563.52h2.31v26.59h-2.31zM234.00 500.16h2.31v13.84h-2.31zM236.27 550.56h2.31v22.93h-2.31zM238.54 566.29h2.31v16.07h-2.31zM240.80 505.14h2.31v27.14h-2.31zM243.07 567.40h2.31v19.39h-2.31zM245.34 532.84h2.31v12.18h-2.31zM247.60 561.86h2.31v21.05h-2.31zM249.87 568.51h2.31v20.49h-2.31zM252.14 556.32h2.31v15.51h-2.31zM254.40 544.47h2.31v19.05h-2.31zM256.67 457.84h2.31v46.19h-2.31zM258.94 504.03h2.31v14.96h-2.31zM261.20 546.13h2.31v26.81h-2.31zM263.47 557.43h2.31v21.60h-2.31zM265.74 556.32h2.31v18.84h-2.31zM268.00 555.77h2.31v31.57h-2.31zM270.27 553.00h2.31v27.14h-2.31zM272.54 559.65h2.31v14.95h-2.31zM274.80 566.29h2.31v12.74h-2.31zM277.07 497.94h2.31v9.42h-2.31zM279.34 532.28h2.31v20.72h-2.31zM281.60 564.08h2.31v22.15h-2.31zM283.87 530.62h2.31v40.66h-2.31zM286.14 546.69h2.31v21.82h-2.31zM288.40 564.63h2.31v11.63h-2.31zM290.67 550.01h2.31v16.28h-2.31zM292.94 468.36h2.31v20.72h-2.31zM295.20 546.13h2.31v20.72h-2.31zM297.47 548.90h2.31v24.59h-2.31zM299.74 545.02h2.31v10.20h-2.31zM304.20 400.56h2.31v5.21h-2.31zM306.47 355.14h2.31v4.65h-2.31zM308.74 573.49h2.31v6.10h-2.31zM311.01 565.74h2.31v3.32h-2.31zM313.28 559.09h2.31v7.76h-2.31zM315.55 480.22h2.31v27.14h-2.31zM317.82 573.49h2.31v8.87h-2.31zM320.09 553.00h2.31v13.29h-2.31zM322.36 537.82h2.31v37.34h-2.31zM324.63 375.08h2.31v1.66h-2.31zM326.90 576.82h2.31v8.31h-2.31zM329.18 482.99h2.31v12.18h-2.31zM331.45 565.19h2.31v6.09h-2.31zM333.72 527.85h2.31v19.94h-2.31zM335.99 450.64h2.31v19.38h-2.31zM338.26 520.65h2.31v23.27h-2.31zM340.53 530.07h2.31v5.54h-2.31zM342.80 573.49h2.31v10.53h-2.31zM345.07 518.44h2.31v24.92h-2.31zM347.34 447.31h2.31v82.20h-2.31zM349.61 505.70h2.31v23.81h-2.31zM351.88 586.79h2.31v3.32h-2.31zM354.15 543.36h2.31v20.16h-2.31zM356.42 501.82h2.31v38.22h-2.31zM358.69 571.83h2.31v11.08h-2.31zM360.96 527.30h2.31v25.70h-2.31zM363.23 528.41h2.31v24.59h-2.31zM367.77 515.11h2.31v20.50h-2.31zM370.04 465.59h2.31v52.85h-2.31zM372.31 533.95h2.31v19.05h-2.31zM374.59 463.38h2.31v34.01h-2.31zM376.86 521.76h2.31v18.28h-2.31zM379.13 435.13h2.31v29.91h-2.31zM381.40 510.13h2.31v21.05h-2.31zM383.67 458.39h2.31v22.38h-2.31zM385.94 528.41h2.31v28.47h-2.31zM388.21 443.99h2.31v22.16h-2.31zM390.48 582.91h2.31v12.19h-2.31zM392.75 441.22h2.31v16.62h-2.31zM395.02 417.96h2.31v19.38h-2.31zM397.29 497.94h2.31v23.27h-2.31zM399.56 559.65h2.31v9.97h-2.31zM401.83 571.83h2.31v4.99h-2.31zM404.10 479.66h2.31v17.17h-2.31zM406.37 530.07h2.31v27.92h-2.31zM408.64 584.57h2.31v14.40h-2.31zM410.91 431.80h2.31v48.42h-2.31zM413.18 434.57h2.31v60.60h-2.31zM415.45 569.62h2.31v12.74h-2.31zM417.73 546.69h2.31v8.53h-2.31zM420.00 430.14h2.31v53.95h-2.31zM422.27 569.06h2.31v18.84h-2.31zM424.54 414.08h2.31v3.88h-2.31zM426.81 565.74h2.31v12.19h-2.31zM429.08 542.25h2.31v27.37h-2.31zM431.35 398.90h2.31v31.24h-2.31zM433.62 486.31h2.31v21.60h-2.31zM435.89 480.77h2.31v17.72h-2.31zM438.16 475.01h2.31v36.22h-2.31zM440.43 482.43h2.31v35.45h-2.31zM442.70 567.40h2.31v13.30h-2.31zM444.97 471.13h2.31v16.29h-2.31zM447.24 520.65h2.31v53.95h-2.31zM449.51 526.74h2.31v39.55h-2.31zM451.78 504.59h2.31v33.23h-2.31zM454.05 545.58h2.31v22.38h-2.31zM456.32 403.00h2.31v9.97h-2.31zM458.59 473.35h2.31v23.48h-2.31zM460.86 514.56h2.31v30.46h-2.31zM463.13 425.16h2.31v1.10h-2.31zM465.41 557.99h2.31v11.07h-2.31zM467.68 405.77h2.31v9.42h-2.31zM469.95 570.73h2.31v8.86h-2.31zM472.22 567.96h2.31v11.07h-2.31zM474.49 468.36h2.31v15.73h-2.31zM476.76 530.62h2.31v45.64h-2.31zM479.03 493.51h2.31v23.26h-2.31zM481.30 487.42h2.31v29.91h-2.31zM483.57 521.76h2.31v26.59h-2.31zM485.84 559.09h2.31v16.62h-2.31zM488.11 491.29h2.31v27.15h-2.31zM490.38 486.86h2.31v29.91h-2.31zM492.65 464.48h2.31v9.42h-2.31zM494.92 553.00h2.31v10.52h-2.31zM497.19 531.18h2.31v10.52h-2.31zM499.46 468.36h2.31v20.16h-2.31zM501.73 493.51h2.31v33.23h-2.31zM504.00 524.53h2.31v28.47h-2.31zM506.27 530.62h2.31v23.49h-2.31zM508.55 458.95h2.31v34.56h-2.31zM510.82 528.41h2.31v7.20h-2.31zM513.09 563.52h2.31v12.74h-2.31zM515.36 530.07h2.31v32.90h-2.31zM517.63 548.90h2.31v11.85h-2.31zM519.90 570.73h2.31v14.95h-2.31zM522.17 422.94h2.31v38.22h-2.31zM524.44 545.02h2.31v8.53h-2.31zM526.71 493.51h2.31v19.39h-2.31zM528.98 538.38h2.31v16.28h-2.31zM531.25 565.19h2.31v4.98h-2.31zM533.52 585.68h2.31v6.09h-2.31zM535.79 452.85h2.31v16.62h-2.31zM538.06 519.54h2.31v34.57h-2.31zM540.33 560.20h2.31v11.08h-2.31zM542.60 559.65h2.31v18.28h-2.31zM544.87 493.51h2.31v23.26h-2.31zM547.14 550.56h2.31v15.73h-2.31zM549.41 440.67h2.31v55.06h-2.31zM551.68 510.68h2.31v23.82h-2.31zM553.96 510.68h2.31v10.53h-2.31zM556.23 482.99h2.31v17.72h-2.31zM558.50 521.76h2.31v47.30h-2.31zM560.77 555.22h2.31v14.40h-2.31zM563.04 544.47h2.31v9.64h-2.31zM565.31 553.00h2.31v8.31h-2.31zM567.58 543.36h2.31v16.29h-2.31zM569.85 490.74h2.31v24.37h-2.31zM572.12 437.90h2.31v83.31h-2.31zM574.39 492.96h2.31v37.66h-2.31zM576.66 557.99h2.31v19.94h-2.31zM578.93 547.24h2.31v18.50h-2.31zM581.20 553.00h2.31v17.73h-2.31zM583.47 504.03h2.31v22.71h-2.31zM585.74 547.79h2.31v15.73h-2.31zM588.01 560.75h2.31v12.19h-2.31zM590.28 506.80h2.31v36.01h-2.31zM592.55 504.03h2.31v51.74h-2.31zM594.82 479.11h2.31v15.51h-2.31zM597.09 509.02h2.31v43.98h-2.31zM599.37 544.47h2.31v44.53h-2.31zM601.64 579.03h2.31v6.10h-2.31zM603.91 543.36h2.31v14.07h-2.31zM606.18 539.48h2.31v29.03h-2.31zM608.45 520.10h2.31v13.85h-2.31zM610.72 550.56h2.31v19.61h-2.31zM612.99 502.37h2.31v53.40h-2.31zM615.26 565.74h2.31v11.08h-2.31zM617.53 531.73h2.31v17.72h-2.31zM619.80 478.00h2.31v14.96h-2.31zM622.07 525.64h2.31v35.11h-2.31zM624.34 513.45h2.31v41.77h-2.31zM626.61 530.07h2.31v34.01h-2.31zM628.88 558.54h2.31v7.20h-2.31zM631.15 497.39h2.31v42.65h-2.31zM633.42 513.45h2.31v19.94h-2.31zM635.69 498.49h2.31v17.73h-2.31zM637.96 533.39h2.31v26.26h-2.31zM640.23 502.37h2.31v6.65h-2.31zM642.50 533.39h2.31v6.65h-2.31zM644.78 557.43h2.31v3.88h-2.31zM647.05 548.90h2.31v19.61h-2.31zM649.32 553.00h2.31v8.31h-2.31zM651.59 595.10h2.31v2.21h-2.31zM653.86 553.00h2.31v27.70h-2.31zM656.13 540.04h2.31v35.67h-2.31zM658.40 545.58h2.31v22.38h-2.31zM660.67 543.36h2.31v21.83h-2.31zM662.94 514.00h2.31v22.71h-2.31zM665.21 531.18h2.31v15.51h-2.31zM667.48 561.31h2.31v17.72h-2.31zM669.75 535.05h2.31v24.60h-2.31zM672.02 536.71h2.31v16.29h-2.31zM674.29 554.66h2.31v21.05h-2.31zM676.56 504.03h2.31v39.33h-2.31zM678.83 528.41h2.31v27.36h-2.31zM681.10 490.19h2.31v7.75h-2.31zM683.37 553.00h2.31v18.83h-2.31zM685.64 544.47h2.31v24.59h-2.31zM687.91 540.04h2.31v26.25h-2.31zM690.18 575.71h2.31v5.54h-2.31zM692.46 569.62h2.31v17.17h-2.31zM694.73 538.38h2.31v15.73h-2.31zM697.00 538.38h2.31v14.62h-2.31zM699.27 530.07h2.31v22.93h-2.31zM701.54 535.05h2.31v9.97h-2.31z"/>
<path fill="#b15928" d="M75.33 373.97h2.31v162.74h-2.31zM77.60 461.71h2.31v12.19h-2.31zM79.87 509.57h2.31v7.20h-2.31zM82.14 530.07h2.31v14.40h-2.31zM84.41 497.94h2.31v4.43h-2.31zM86.68 521.76h2.31v15.51h-2.31zM88.95 539.48h2.31v3.88h-2.31zM91.22 551.67h2.31v1.33h-2.31zM93.49 496.83h2.31v27.14h-2.31zM98.00 417.40h2.31v7.76h-2.31zM100.27 443.99h2.31v9.97h-2.31zM102.53 405.77h2.31v6.65h-2.31zM104.80 450.08h2.31v6.65h-2.31zM107.07 570.73h2.31v4.98h-2.31zM109.33 381.73h2.31v5.54h-2.31zM111.60 412.42h2.31v18.28h-2.31zM113.87 424.05h2.31v3.88h-2.31zM116.13 427.93h2.31v6.09h-2.31zM118.40 570.73h2.31v6.09h-2.31zM120.67 523.97h2.31v9.98h-2.31zM122.93 510.13h2.31v20.49h-2.31zM125.20 560.75h2.31v5.54h-2.31zM127.47 525.64h2.31v9.41h-2.31zM129.73 572.94h2.31v7.76h-2.31zM132.00 484.65h2.31v15.51h-2.31zM134.27 542.25h2.31v18.50h-2.31zM136.53 547.24h2.31v25.70h-2.31zM138.80 502.93h2.31v9.41h-2.31zM141.07 467.25h2.31v50.08h-2.31zM143.33 562.42h2.31v1.66h-2.31zM145.60 568.51h2.31v8.31h-2.31zM147.87 555.22h2.31v7.75h-2.31zM150.13 558.54h2.31v9.42h-2.31zM152.40 480.22h2.31v9.41h-2.31zM154.67 550.01h2.31v20.16h-2.31zM156.93 553.00h2.31v21.60h-2.31zM159.20 555.77h2.31v16.06h-2.31zM161.47 539.48h2.31v17.40h-2.31zM163.73 512.90h2.31v2.77h-2.31zM166.00 575.71h2.31v6.09h-2.31zM168.27 545.58h2.31v10.19h-2.31zM170.53 464.48h2.31v4.44h-2.31zM172.80 553.00h2.31v7.75h-2.31zM175.07 526.74h2.31v7.21h-2.31zM177.33 521.21h2.31v12.18h-2.31zM179.60 398.01h2.31v4.99h-2.31zM181.87 546.13h2.31v9.64h-2.31zM184.13 395.02h2.31v3.88h-2.31zM186.40 556.88h2.31v5.54h-2.31zM188.67 486.31h2.31v3.32h-2.31zM190.93 542.25h2.31v10.75h-2.31zM193.20 550.01h2.31v11.30h-2.31zM195.47 431.25h2.31v29.36h-2.31zM197.73 537.82h2.31v3.88h-2.31zM200.00 547.24h2.31v5.76h-2.31zM202.27 565.74h2.31v11.63h-2.31zM204.53 543.36h2.31v19.61h-2.31zM206.80 554.11h2.31v6.09h-2.31zM209.07 563.52h2.31v6.65h-2.31zM211.34 553.00h2.31v4.43h-2.31zM213.60 546.69h2.31v7.97h-2.31zM215.87 490.19h2.31v7.20h-2.31zM218.14 471.69h2.31v15.73h-2.31zM220.40 542.81h2.31v3.88h-2.31zM222.67 543.36h2.31v10.75h-2.31zM224.94 485.20h2.31v8.31h-2.31zM227.20 531.18h2.31v31.24h-2.31zM229.47 532.28h2.31v3.88h-2.31zM231.74 541.15h2.31v22.37h-2.31zM234.00 487.42h2.31v12.74h-2.31zM236.27 543.36h2.31v7.20h-2.31zM238.54 560.20h2.31v6.09h-2.31zM240.80 496.28h2.31v8.86h-2.31zM243.07 555.22h2.31v12.18h-2.31zM245.34 528.96h2.31v3.88h-2.31zM247.60 520.10h2.31v41.76h-2.31zM249.87 562.42h2.31v6.09h-2.31zM252.14 544.47h2.31v11.85h-2.31zM254.40 538.38h2.31v6.09h-2.31zM256.67 450.08h2.31v7.76h-2.31zM258.94 479.66h2.31v24.37h-2.31zM261.20 538.38h2.31v7.75h-2.31zM263.47 543.36h2.31v14.07h-2.31zM265.74 542.25h2.31v14.07h-2.31zM268.00 533.39h2.31v22.38h-2.31zM270.27 546.13h2.31v6.87h-2.31zM272.54 532.28h2.31v27.37h-2.31zM274.80 553.00h2.31v13.29h-2.31zM277.07 455.62h2.31v42.32h-2.31zM279.34 506.25h2.31v26.03h-2.31zM281.60 553.00h2.31v11.08h-2.31zM283.87 517.88h2.31v12.74h-2.31zM286.14 533.39h2.31v13.30h-2.31zM288.40 556.88h2.31v7.75h-2.31zM290.67 538.38h2.31v11.63h-2.31zM292.94 463.38h2.31v4.98h-2.31zM295.20 532.84h2.31v13.29h-2.31zM297.47 543.36h2.31v5.54h-2.31zM299.74 542.25h2.31v2.77h-2.31zM304.20 397.57h2.31v2.99h-2.31zM308.74 564.63h2.31v8.86h-2.31zM311.01 558.54h2.31v7.20h-2.31zM313.28 490.19h2.31v68.90h-2.31zM315.55 475.01h2.31v5.21h-2.31zM317.82 535.05h2.31v38.44h-2.31zM320.09 531.18h2.31v21.82h-2.31zM322.36 521.76h2.31v16.06h-2.31zM326.90 570.17h2.31v6.65h-2.31zM329.18 475.56h2.31v7.43h-2.31zM331.45 556.32h2.31v8.87h-2.31zM333.72 522.31h2.31v5.54h-2.31zM335.99 442.33h2.31v8.31h-2.31zM338.26 490.19h2.31v30.46h-2.31zM340.53 516.77h2.31v13.30h-2.31zM342.80 555.22h2.31v18.27h-2.31zM345.07 491.29h2.31v27.15h-2.31zM347.34 437.90h2.31v9.41h-2.31zM349.61 494.62h2.31v11.08h-2.31zM351.88 584.57h2.31v2.22h-2.31zM354.15 538.93h2.31v4.43h-2.31zM356.42 498.49h2.31v3.33h-2.31zM358.69 562.42h2.31v9.41h-2.31zM360.96 520.65h2.31v6.65h-2.31zM363.23 520.65h2.31v7.76h-2.31zM365.50 520.65h2.31v32.35h-2.31zM367.77 492.40h2.31v22.71h-2.31zM370.04 457.84h2.31v7.75h-2.31zM372.31 520.10h2.31v13.85h-2.31zM374.59 451.74h2.31v11.64h-2.31zM376.86 509.57h2.31v12.19h-2.31zM379.13 419.62h2.31v15.51h-2.31zM381.40 505.70h2.31v4.43h-2.31zM383.67 441.22h2.31v17.17h-2.31zM385.94 510.68h2.31v17.73h-2.31zM388.21 431.80h2.31v12.19h-2.31zM390.48 533.95h2.31v48.96h-2.31zM392.75 436.23h2.31v4.99h-2.31zM395.02 412.42h2.31v5.54h-2.31zM397.29 482.43h2.31v15.51h-2.31zM399.56 554.66h2.31v4.99h-2.31zM401.83 567.96h2.31v3.87h-2.31zM404.10 462.82h2.31v16.84h-2.31zM406.37 520.65h2.31v9.42h-2.31zM408.64 574.60h2.31v9.97h-2.31zM410.91 426.26h2.31v5.54h-2.31zM413.18 422.39h2.31v12.18h-2.31zM415.45 565.19h2.31v4.43h-2.31zM417.73 514.00h2.31v32.69h-2.31zM420.00 419.06h2.31v11.08h-2.31zM422.27 559.65h2.31v9.41h-2.31zM424.54 366.77h2.31v47.31h-2.31zM426.81 536.16h2.31v29.58h-2.31zM429.08 479.11h2.31v63.14h-2.31zM431.35 398.01h2.31v0.89h-2.31zM433.62 471.69h2.31v14.62h-2.31zM435.89 471.13h2.31v9.64h-2.31zM438.16 473.90h2.31v1.11h-2.31zM442.70 560.75h2.31v6.65h-2.31zM444.97 466.15h2.31v4.98h-2.31zM447.24 501.82h2.31v18.83h-2.31zM449.51 516.22h2.31v10.52h-2.31zM451.78 481.88h2.31v22.71h-2.31zM454.05 525.64h2.31v19.94h-2.31zM458.59 461.16h2.31v12.19h-2.31zM460.86 498.49h2.31v16.07h-2.31zM463.13 424.05h2.31v1.11h-2.31zM465.41 548.90h2.31v9.09h-2.31zM467.68 403.00h2.31v2.77h-2.31zM469.95 547.79h2.31v22.94h-2.31zM472.22 550.01h2.31v17.95h-2.31zM474.49 458.39h2.31v9.97h-2.31zM476.76 515.67h2.31v14.95h-2.31zM479.03 482.43h2.31v11.08h-2.31zM481.30 458.95h2.31v28.47h-2.31zM483.57 515.11h2.31v6.65h-2.31zM485.84 547.24h2.31v11.85h-2.31zM488.11 471.13h2.31v20.16h-2.31zM492.65 460.61h2.31v3.87h-2.31zM494.92 538.93h2.31v14.07h-2.31zM497.19 520.65h2.31v10.53h-2.31zM499.46 460.61h2.31v7.75h-2.31zM501.73 484.09h2.31v9.42h-2.31zM504.00 506.80h2.31v17.73h-2.31zM506.27 507.36h2.31v23.26h-2.31zM508.55 448.42h2.31v10.53h-2.31zM510.82 495.17h2.31v33.24h-2.31zM513.09 557.99h2.31v5.53h-2.31zM515.36 479.11h2.31v50.96h-2.31zM517.63 535.61h2.31v13.29h-2.31zM519.90 559.09h2.31v11.64h-2.31zM522.17 410.75h2.31v12.19h-2.31zM524.44 537.82h2.31v7.20h-2.31zM526.71 491.29h2.31v2.22h-2.31zM528.98 534.50h2.31v3.88h-2.31zM531.25 561.31h2.31v3.88h-2.31zM533.52 584.02h2.31v1.66h-2.31zM535.79 451.74h2.31v1.11h-2.31zM538.06 502.93h2.31v16.61h-2.31zM540.33 550.01h2.31v10.19h-2.31zM542.60 537.82h2.31v21.83h-2.31zM544.87 489.63h2.31v3.88h-2.31zM547.14 538.38h2.31v12.18h-2.31zM549.41 414.63h2.31v26.04h-2.31zM551.68 503.48h2.31v7.20h-2.31zM553.96 487.42h2.31v23.26h-2.31zM556.23 479.66h2.31v3.33h-2.31zM558.50 466.15h2.31v55.61h-2.31zM560.77 544.47h2.31v10.75h-2.31zM563.04 535.61h2.31v8.86h-2.31zM565.31 541.15h2.31v11.85h-2.31zM567.58 532.84h2.31v10.52h-2.31zM569.85 427.93h2.31v62.81h-2.31zM572.12 429.03h2.31v8.87h-2.31zM574.39 479.11h2.31v13.85h-2.31zM576.66 545.58h2.31v12.41h-2.31zM578.93 516.77h2.31v30.47h-2.31zM581.20 503.48h2.31v49.52h-2.31zM583.47 496.28h2.31v7.75h-2.31zM585.74 489.08h2.31v58.71h-2.31zM588.01 548.35h2.31v12.40h-2.31zM590.28 490.19h2.31v16.61h-2.31zM592.55 486.31h2.31v17.72h-2.31zM594.82 466.15h2.31v12.96h-2.31zM597.09 486.31h2.31v22.71h-2.31zM599.37 535.61h2.31v8.86h-2.31zM601.64 576.26h2.31v2.77h-2.31zM603.91 533.39h2.31v9.97h-2.31zM606.18 515.67h2.31v23.81h-2.31zM608.45 491.29h2.31v28.81h-2.31zM610.72 499.60h2.31v50.96h-2.31zM612.99 493.51h2.31v8.86h-2.31zM615.26 521.21h2.31v44.53h-2.31zM617.53 525.08h2.31v6.65h-2.31zM619.80 462.82h2.31v15.18h-2.31zM622.07 480.22h2.31v45.42h-2.31zM624.34 479.11h2.31v34.34h-2.31zM626.61 521.21h2.31v8.86h-2.31zM628.88 556.32h2.31v2.22h-2.31zM631.15 481.88h2.31v15.51h-2.31zM633.42 482.43h2.31v31.02h-2.31zM635.69 494.62h2.31v3.87h-2.31zM642.50 520.65h2.31v12.74h-2.31zM644.78 554.11h2.31v3.32h-2.31zM647.05 542.25h2.31v6.65h-2.31zM651.59 584.02h2.31v11.08h-2.31zM653.86 536.71h2.31v16.29h-2.31zM656.13 483.54h2.31v56.50h-2.31zM658.40 506.25h2.31v39.33h-2.31zM660.67 494.62h2.31v48.74h-2.31zM662.94 495.17h2.31v18.83h-2.31zM665.21 494.62h2.31v36.56h-2.31zM667.48 543.92h2.31v17.39h-2.31zM669.75 525.64h2.31v9.41h-2.31zM672.02 522.31h2.31v14.40h-2.31zM674.29 520.65h2.31v34.01h-2.31zM676.56 481.32h2.31v22.71h-2.31zM678.83 496.28h2.31v32.13h-2.31zM683.37 525.64h2.31v27.36h-2.31zM685.64 515.11h2.31v29.36h-2.31zM690.18 572.39h2.31v3.32h-2.31zM692.46 557.99h2.31v11.63h-2.31zM694.73 518.44h2.31v19.94h-2.31zM697.00 511.23h2.31v27.15h-2.31zM699.27 521.76h2.31v8.31h-2.31zM701.54 515.67h2.31v19.38h-2.31z"/>
<path fill="#f5821f" d="M75.33 370.98h2.31v2.99h-2.31zM77.60 446.21h2.31v15.50h-2.31zM79.87 497.94h2.31v11.63h-2.31zM82.14 497.94h2.31v32.13h-2.31zM84.41 479.66h2.31v18.28h-2.31zM86.68 509.57h2.31v12.19h-2.31zM88.95 526.74h2.31v12.74h-2.31zM91.22 545.02h2.31v6.65h-2.31zM93.49 490.19h2.31v6.64h-2.31zM98.00 414.08h2.31v3.32h-2.31zM100.27 435.13h2.31v8.86h-2.31zM102.53 400.01h2.31v5.76h-2.31zM104.80 447.31h2.31v2.77h-2.31zM107.07 569.06h2.31v1.67h-2.31zM109.33 377.08h2.31v4.65h-2.31zM111.60 410.20h2.31v2.22h-2.31zM113.87 419.06h2.31v4.99h-2.31zM116.13 418.51h2.31v9.42h-2.31zM118.40 569.06h2.31v1.67h-2.31zM120.67 508.47h2.31v15.50h-2.31zM122.93 507.36h2.31v2.77h-2.31zM125.20 554.11h2.31v6.64h-2.31zM127.47 505.70h2.31v19.94h-2.31zM129.73 565.74h2.31v7.20h-2.31zM132.00 471.69h2.31v12.96h-2.31zM134.27 533.39h2.31v8.86h-2.31zM136.53 541.70h2.31v5.54h-2.31zM138.80 490.19h2.31v12.74h-2.31zM141.07 461.71h2.31v5.54h-2.31zM143.33 559.65h2.31v2.77h-2.31zM145.60 562.42h2.31v6.09h-2.31zM147.87 547.79h2.31v7.43h-2.31zM150.13 553.00h2.31v5.54h-2.31zM152.40 463.38h2.31v16.84h-2.31zM154.67 541.15h2.31v8.86h-2.31zM156.93 548.90h2.31v4.10h-2.31zM159.20 553.00h2.31v2.77h-2.31zM161.47 535.05h2.31v4.43h-2.31zM163.73 502.93h2.31v9.97h-2.31zM166.00 572.39h2.31v3.32h-2.31zM168.27 537.82h2.31v7.76h-2.31zM170.53 456.73h2.31v7.75h-2.31zM172.80 543.36h2.31v9.64h-2.31zM175.07 510.68h2.31v16.06h-2.31zM177.33 504.03h2.31v17.18h-2.31zM179.60 392.03h2.31v5.98h-2.31zM181.87 541.15h2.31v4.98h-2.31zM184.13 391.37h2.31v3.65h-2.31zM186.40 542.81h2.31v14.07h-2.31zM188.67 463.38h2.31v22.93h-2.31zM190.93 525.64h2.31v16.61h-2.31zM193.20 530.07h2.31v19.94h-2.31zM195.47 426.82h2.31v4.43h-2.31zM197.73 532.84h2.31v4.98h-2.31zM200.00 532.84h2.31v14.40h-2.31zM202.27 562.42h2.31v3.32h-2.31zM204.53 536.71h2.31v6.65h-2.31zM206.80 550.56h2.31v3.55h-2.31zM209.07 557.99h2.31v5.53h-2.31zM211.34 506.25h2.31v46.75h-2.31zM213.60 528.96h2.31v17.73h-2.31zM215.87 475.56h2.31v14.63h-2.31zM218.14 464.48h2.31v7.21h-2.31zM220.40 535.05h2.31v7.76h-2.31zM222.67 536.71h2.31v6.65h-2.31zM224.94 478.00h2.31v7.20h-2.31zM227.20 521.76h2.31v9.42h-2.31zM229.47 515.11h2.31v17.17h-2.31zM231.74 527.85h2.31v13.30h-2.31zM234.00 471.69h2.31v15.73h-2.31zM236.27 533.39h2.31v9.97h-2.31zM238.54 540.04h2.31v20.16h-2.31zM240.80 483.54h2.31v12.74h-2.31zM243.07 540.04h2.31v15.18h-2.31zM245.34 511.23h2.31v17.73h-2.31zM247.60 506.25h2.31v13.85h-2.31zM249.87 556.88h2.31v5.54h-2.31zM252.14 522.87h2.31v21.60h-2.31zM254.40 526.19h2.31v12.19h-2.31zM256.67 442.88h2.31v7.20h-2.31zM258.94 461.16h2.31v18.50h-2.31zM261.20 527.30h2.31v11.08h-2.31zM263.47 528.96h2.31v14.40h-2.31zM265.74 537.82h2.31v4.43h-2.31zM268.00 526.74h2.31v6.65h-2.31zM270.27 534.50h2.31v11.63h-2.31zM272.54 515.11h2.31v17.17h-2.31zM274.80 547.24h2.31v5.76h-2.31zM277.07 441.77h2.31v13.85h-2.31zM279.34 502.37h2.31v3.88h-2.31zM281.60 541.15h2.31v11.85h-2.31zM283.87 502.93h2.31v14.95h-2.31zM286.14 515.67h2.31v17.72h-2.31zM288.40 541.15h2.31v15.73h-2.31zM290.67 522.31h2.31v16.07h-2.31zM292.94 454.51h2.31v8.87h-2.31zM295.20 520.65h2.31v12.19h-2.31zM297.47 526.74h2.31v16.62h-2.31zM299.74 521.76h2.31v20.49h-2.31zM304.20 394.47h2.31v3.10h-2.31zM306.47 347.94h2.31v7.20h-2.31zM308.74 548.90h2.31v15.73h-2.31zM311.01 537.82h2.31v20.72h-2.31zM313.28 446.76h2.31v43.43h-2.31zM315.55 455.62h2.31v19.39h-2.31zM317.82 515.11h2.31v19.94h-2.31zM320.09 518.99h2.31v12.19h-2.31zM322.36 517.88h2.31v3.88h-2.31zM324.63 371.98h2.31v3.10h-2.31zM326.90 554.11h2.31v16.06h-2.31zM329.18 455.07h2.31v20.49h-2.31zM331.45 463.38h2.31v92.94h-2.31zM333.72 499.60h2.31v22.71h-2.31zM335.99 440.11h2.31v2.22h-2.31zM338.26 485.75h2.31v4.44h-2.31zM340.53 478.00h2.31v38.77h-2.31zM342.80 513.45h2.31v41.77h-2.31zM345.07 456.18h2.31v35.11h-2.31zM347.34 429.03h2.31v8.87h-2.31zM349.61 479.11h2.31v15.51h-2.31zM351.88 566.85h2.31v17.72h-2.31zM354.15 511.23h2.31v27.70h-2.31zM356.42 479.11h2.31v19.38h-2.31zM358.69 525.08h2.31v37.34h-2.31zM360.96 505.14h2.31v15.51h-2.31zM363.23 470.02h2.31v50.63h-2.31zM365.50 499.60h2.31v21.05h-2.31zM367.77 481.88h2.31v10.52h-2.31zM370.04 450.64h2.31v7.20h-2.31zM372.31 507.91h2.31v12.19h-2.31zM374.59 441.77h2.31v9.97h-2.31zM376.86 490.19h2.31v19.38h-2.31zM379.13 413.52h2.31v6.10h-2.31zM381.40 460.05h2.31v45.65h-2.31zM383.67 437.90h2.31v3.32h-2.31zM385.94 505.14h2.31v5.54h-2.31zM388.21 429.59h2.31v2.21h-2.31zM390.48 494.62h2.31v39.33h-2.31zM392.75 416.85h2.31v19.38h-2.31zM395.02 406.88h2.31v5.54h-2.31zM397.29 471.69h2.31v10.74h-2.31zM399.56 536.71h2.31v17.95h-2.31zM401.83 551.12h2.31v16.84h-2.31zM404.10 443.99h2.31v18.83h-2.31zM406.37 501.26h2.31v19.39h-2.31zM408.64 556.88h2.31v17.72h-2.31zM410.91 420.73h2.31v5.53h-2.31zM413.18 412.42h2.31v9.97h-2.31zM415.45 530.07h2.31v35.12h-2.31zM417.73 489.08h2.31v24.92h-2.31zM420.00 409.65h2.31v9.41h-2.31zM422.27 554.11h2.31v5.54h-2.31zM424.54 363.23h2.31v3.54h-2.31zM426.81 522.31h2.31v13.85h-2.31zM429.08 468.36h2.31v10.75h-2.31zM431.35 388.71h2.31v9.30h-2.31zM433.62 464.48h2.31v7.21h-2.31zM435.89 463.38h2.31v7.75h-2.31zM438.16 463.93h2.31v9.97h-2.31zM440.43 463.38h2.31v19.05h-2.31zM442.70 525.64h2.31v35.11h-2.31zM444.97 427.93h2.31v38.22h-2.31zM447.24 489.63h2.31v12.19h-2.31zM449.51 480.77h2.31v35.45h-2.31zM451.78 464.48h2.31v17.40h-2.31zM454.05 512.90h2.31v12.74h-2.31zM456.32 398.90h2.31v4.10h-2.31zM458.59 453.41h2.31v7.75h-2.31zM460.86 491.29h2.31v7.20h-2.31zM463.13 417.40h2.31v6.65h-2.31zM465.41 493.51h2.31v55.39h-2.31zM467.68 395.02h2.31v7.98h-2.31zM469.95 467.25h2.31v80.54h-2.31zM472.22 461.71h2.31v88.30h-2.31zM474.49 446.76h2.31v11.63h-2.31zM476.76 501.82h2.31v13.85h-2.31zM479.03 447.87h2.31v34.56h-2.31zM481.30 432.36h2.31v26.59h-2.31zM483.57 484.09h2.31v31.02h-2.31zM485.84 489.63h2.31v57.61h-2.31zM488.11 446.76h2.31v24.37h-2.31zM490.38 478.00h2.31v8.86h-2.31zM492.65 452.85h2.31v7.76h-2.31zM494.92 536.71h2.31v2.22h-2.31zM497.19 505.70h2.31v14.95h-2.31zM499.46 453.41h2.31v7.20h-2.31zM501.73 452.30h2.31v31.79h-2.31zM504.00 492.40h2.31v14.40h-2.31zM506.27 482.99h2.31v24.37h-2.31zM508.55 421.83h2.31v26.59h-2.31zM510.82 475.01h2.31v20.16h-2.31zM513.09 539.48h2.31v18.51h-2.31zM515.36 468.36h2.31v10.75h-2.31zM517.63 505.70h2.31v29.91h-2.31zM519.90 485.75h2.31v73.34h-2.31zM522.17 403.00h2.31v7.75h-2.31zM524.44 506.25h2.31v31.57h-2.31zM526.71 481.88h2.31v9.41h-2.31zM528.98 490.74h2.31v43.76h-2.31zM531.25 529.51h2.31v31.80h-2.31zM533.52 564.63h2.31v19.39h-2.31zM535.79 445.10h2.31v6.64h-2.31zM538.06 491.85h2.31v11.08h-2.31zM540.33 468.36h2.31v81.65h-2.31zM542.60 485.20h2.31v52.62h-2.31zM544.87 440.67h2.31v48.96h-2.31zM547.14 478.00h2.31v60.38h-2.31zM549.41 395.02h2.31v19.61h-2.31zM551.68 468.36h2.31v35.12h-2.31zM553.96 451.74h2.31v35.68h-2.31zM556.23 439.00h2.31v40.66h-2.31zM558.50 453.41h2.31v12.74h-2.31zM560.77 482.43h2.31v62.04h-2.31zM563.04 478.00h2.31v57.61h-2.31zM565.31 511.23h2.31v29.92h-2.31zM567.58 506.25h2.31v26.59h-2.31zM569.85 414.08h2.31v13.85h-2.31zM572.12 414.08h2.31v14.95h-2.31zM574.39 472.79h2.31v6.32h-2.31zM576.66 534.50h2.31v11.08h-2.31zM578.93 497.94h2.31v18.83h-2.31zM581.20 495.17h2.31v8.31h-2.31zM583.47 478.00h2.31v18.28h-2.31zM585.74 453.41h2.31v35.67h-2.31zM588.01 478.00h2.31v70.35h-2.31zM590.28 483.54h2.31v6.65h-2.31zM592.55 468.92h2.31v17.39h-2.31zM597.09 478.00h2.31v8.31h-2.31zM599.37 509.02h2.31v26.59h-2.31zM601.64 554.66h2.31v21.60h-2.31zM603.91 526.74h2.31v6.65h-2.31zM606.18 491.29h2.31v24.38h-2.31zM608.45 470.02h2.31v21.27h-2.31zM610.72 467.81h2.31v31.79h-2.31zM612.99 458.95h2.31v34.56h-2.31zM615.26 482.43h2.31v38.78h-2.31zM617.53 502.37h2.31v22.71h-2.31zM619.80 451.74h2.31v11.08h-2.31zM622.07 444.54h2.31v35.68h-2.31zM624.34 455.07h2.31v24.04h-2.31zM626.61 510.13h2.31v11.08h-2.31zM628.88 528.96h2.31v27.36h-2.31zM631.15 468.92h2.31v12.96h-2.31zM633.42 452.30h2.31v30.13h-2.31zM635.69 461.71h2.31v32.91h-2.31zM637.96 514.00h2.31v19.39h-2.31zM640.23 449.53h2.31v52.84h-2.31zM642.50 486.31h2.31v34.34h-2.31zM644.78 502.93h2.31v51.18h-2.31zM647.05 509.57h2.31v32.68h-2.31zM649.32 527.85h2.31v25.15h-2.31zM651.59 545.02h2.31v39.00h-2.31zM653.86 510.68h2.31v26.03h-2.31zM656.13 458.39h2.31v25.15h-2.31zM658.40 482.99h2.31v23.26h-2.31zM660.67 478.00h2.31v16.62h-2.31zM662.94 450.64h2.31v44.53h-2.31zM665.21 449.53h2.31v45.09h-2.31zM667.48 520.10h2.31v23.82h-2.31zM669.75 492.96h2.31v32.68h-2.31zM672.02 471.69h2.31v50.62h-2.31zM674.29 470.02h2.31v50.63h-2.31zM676.56 436.79h2.31v44.53h-2.31zM678.83 463.93h2.31v32.35h-2.31zM681.10 458.39h2.31v31.80h-2.31zM683.37 502.37h2.31v23.27h-2.31zM685.64 478.00h2.31v37.11h-2.31zM687.91 469.47h2.31v70.57h-2.31zM690.18 520.65h2.31v51.74h-2.31zM692.46 491.85h2.31v66.14h-2.31zM694.73 470.02h2.31v48.42h-2.31zM697.00 487.42h2.31v23.81h-2.31zM699.27 468.92h2.31v52.84h-2.31zM701.54 460.61h2.31v55.06h-2.31z"/>
<path fill="#b87fbd" d="M75.33 364.00h2.31v6.98h-2.31zM77.60 429.59h2.31v16.62h-2.31zM79.87 485.75h2.31v12.19h-2.31zM82.14 487.42h2.31v10.52h-2.31zM86.68 502.37h2.31v7.20h-2.31zM88.95 516.22h2.31v10.52h-2.31zM91.22 487.97h2.31v57.05h-2.31zM93.49 447.87h2.31v42.32h-2.31zM98.00 378.96h2.31v35.12h-2.31zM100.27 422.94h2.31v12.19h-2.31zM102.53 382.84h2.31v17.17h-2.31zM104.80 410.75h2.31v36.56h-2.31zM107.07 545.58h2.31v23.48h-2.31zM109.33 372.87h2.31v4.21h-2.31zM111.60 380.07h2.31v30.13h-2.31zM113.87 388.38h2.31v30.68h-2.31zM116.13 410.75h2.31v7.76h-2.31zM118.40 534.50h2.31v34.56h-2.31zM120.67 497.94h2.31v10.53h-2.31zM122.93 462.82h2.31v44.54h-2.31zM125.20 544.47h2.31v9.64h-2.31zM127.47 492.40h2.31v13.30h-2.31zM129.73 546.69h2.31v19.05h-2.31zM132.00 458.39h2.31v13.30h-2.31zM134.27 501.82h2.31v31.57h-2.31zM136.53 483.54h2.31v58.16h-2.31zM141.07 425.16h2.31v36.55h-2.31zM143.33 543.36h2.31v16.29h-2.31zM145.60 543.92h2.31v18.50h-2.31zM147.87 510.13h2.31v37.66h-2.31zM150.13 515.67h2.31v37.33h-2.31zM152.40 448.42h2.31v14.96h-2.31zM154.67 496.28h2.31v44.87h-2.31zM156.93 514.56h2.31v34.34h-2.31zM159.20 527.85h2.31v25.15h-2.31zM161.47 502.93h2.31v32.12h-2.31zM163.73 475.01h2.31v27.92h-2.31zM166.00 536.71h2.31v35.68h-2.31zM168.27 516.22h2.31v21.60h-2.31zM170.53 428.48h2.31v28.25h-2.31zM172.80 517.33h2.31v26.03h-2.31zM175.07 493.51h2.31v17.17h-2.31zM177.33 497.94h2.31v6.09h-2.31zM179.60 388.38h2.31v3.65h-2.31zM181.87 526.74h2.31v14.41h-2.31zM184.13 384.28h2.31v7.09h-2.31zM186.40 521.76h2.31v21.05h-2.31zM188.67 456.73h2.31v6.65h-2.31zM190.93 509.02h2.31v16.62h-2.31zM193.20 507.91h2.31v22.16h-2.31zM195.47 412.97h2.31v13.85h-2.31zM197.73 518.99h2.31v13.85h-2.31zM200.00 513.45h2.31v19.39h-2.31zM202.27 541.70h2.31v20.72h-2.31zM204.53 470.02h2.31v66.69h-2.31zM206.80 495.17h2.31v55.39h-2.31zM209.07 500.71h2.31v57.28h-2.31zM211.34 504.03h2.31v2.22h-2.31zM213.60 507.36h2.31v21.60h-2.31zM215.87 445.65h2.31v29.91h-2.31zM218.14 445.65h2.31v18.83h-2.31zM220.40 481.88h2.31v53.17h-2.31zM222.67 482.43h2.31v54.28h-2.31zM224.94 459.50h2.31v18.50h-2.31zM227.20 498.49h2.31v23.27h-2.31zM229.47 502.93h2.31v12.18h-2.31zM231.74 446.21h2.31v81.64h-2.31zM234.00 445.65h2.31v26.04h-2.31zM236.27 510.13h2.31v23.26h-2.31zM238.54 518.99h2.31v21.05h-2.31zM240.80 445.10h2.31v38.44h-2.31zM243.07 509.57h2.31v30.47h-2.31zM245.34 504.03h2.31v7.20h-2.31zM247.60 491.85h2.31v14.40h-2.31zM249.87 525.08h2.31v31.80h-2.31zM252.14 505.70h2.31v17.17h-2.31zM254.40 507.91h2.31v18.28h-2.31zM256.67 419.06h2.31v23.82h-2.31zM258.94 451.74h2.31v9.42h-2.31zM261.20 501.82h2.31v25.48h-2.31zM263.47 498.49h2.31v30.47h-2.31zM265.74 454.51h2.31v83.31h-2.31zM268.00 500.71h2.31v26.03h-2.31zM270.27 501.26h2.31v33.24h-2.31zM272.54 486.86h2.31v28.25h-2.31zM274.80 515.67h2.31v31.57h-2.31zM277.07 421.83h2.31v19.94h-2.31zM279.34 480.77h2.31v21.60h-2.31zM281.60 512.34h2.31v28.81h-2.31zM283.87 482.99h2.31v19.94h-2.31zM286.14 488.52h2.31v27.15h-2.31zM288.40 522.87h2.31v18.28h-2.31zM290.67 487.97h2.31v34.34h-2.31zM292.94 435.68h2.31v18.83h-2.31zM295.20 494.06h2.31v26.59h-2.31zM297.47 504.03h2.31v22.71h-2.31zM299.74 515.11h2.31v6.65h-2.31zM304.20 386.94h2.31v7.53h-2.31zM306.47 346.83h2.31v1.11h-2.31zM308.74 546.13h2.31v2.77h-2.31zM311.01 532.84h2.31v4.98h-2.31zM313.28 435.13h2.31v11.63h-2.31zM315.55 449.53h2.31v6.09h-2.31zM317.82 506.25h2.31v8.86h-2.31zM320.09 495.17h2.31v23.82h-2.31zM322.36 479.66h2.31v38.22h-2.31zM324.63 370.10h2.31v1.88h-2.31zM326.90 547.79h2.31v6.32h-2.31zM329.18 446.76h2.31v8.31h-2.31zM333.72 492.96h2.31v6.64h-2.31zM335.99 422.39h2.31v17.72h-2.31zM338.26 432.91h2.31v52.84h-2.31zM340.53 461.71h2.31v16.29h-2.31zM342.80 506.80h2.31v6.65h-2.31zM345.07 446.76h2.31v9.42h-2.31zM347.34 414.08h2.31v14.95h-2.31zM349.61 473.35h2.31v5.76h-2.31zM351.88 562.97h2.31v3.88h-2.31zM354.15 506.25h2.31v4.98h-2.31zM356.42 447.87h2.31v31.24h-2.31zM358.69 517.88h2.31v7.20h-2.31zM360.96 495.73h2.31v9.41h-2.31zM363.23 445.10h2.31v24.92h-2.31zM365.50 489.63h2.31v9.97h-2.31zM367.77 457.84h2.31v24.04h-2.31zM370.04 421.28h2.31v29.36h-2.31zM372.31 497.94h2.31v9.97h-2.31zM374.59 424.05h2.31v17.72h-2.31zM376.86 481.88h2.31v8.31h-2.31zM379.13 409.09h2.31v4.43h-2.31zM381.40 457.84h2.31v2.21h-2.31zM383.67 392.03h2.31v45.87h-2.31zM385.94 485.75h2.31v19.39h-2.31zM388.21 395.02h2.31v34.57h-2.31zM390.48 484.09h2.31v10.53h-2.31zM392.75 415.19h2.31v1.66h-2.31zM395.02 393.92h2.31v12.96h-2.31zM397.29 442.33h2.31v29.36h-2.31zM399.56 531.18h2.31v5.53h-2.31zM401.83 546.69h2.31v4.43h-2.31zM404.10 418.51h2.31v25.48h-2.31zM406.37 491.85h2.31v9.41h-2.31zM408.64 543.92h2.31v12.96h-2.31zM410.91 408.54h2.31v12.19h-2.31zM413.18 400.56h2.31v11.86h-2.31zM415.45 525.08h2.31v4.99h-2.31zM417.73 480.22h2.31v8.86h-2.31zM420.00 400.01h2.31v9.64h-2.31zM422.27 515.67h2.31v38.44h-2.31zM424.54 351.82h2.31v11.41h-2.31zM426.81 494.06h2.31v28.25h-2.31zM429.08 440.67h2.31v27.69h-2.31zM431.35 382.06h2.31v6.65h-2.31zM433.62 431.80h2.31v32.68h-2.31zM435.89 448.97h2.31v14.41h-2.31zM438.16 450.64h2.31v13.29h-2.31zM440.43 456.73h2.31v6.65h-2.31zM442.70 518.99h2.31v6.65h-2.31zM444.97 420.73h2.31v7.20h-2.31zM447.24 463.93h2.31v25.70h-2.31zM449.51 466.70h2.31v14.07h-2.31zM451.78 439.00h2.31v25.48h-2.31zM454.05 496.83h2.31v16.07h-2.31zM456.32 380.07h2.31v18.83h-2.31zM458.59 417.96h2.31v35.45h-2.31zM460.86 452.85h2.31v38.44h-2.31zM463.13 415.19h2.31v2.21h-2.31zM465.41 489.08h2.31v4.43h-2.31zM467.68 390.04h2.31v4.98h-2.31zM472.22 452.30h2.31v9.41h-2.31zM474.49 432.36h2.31v14.40h-2.31zM476.76 490.74h2.31v11.08h-2.31zM479.03 441.22h2.31v6.65h-2.31zM481.30 419.62h2.31v12.74h-2.31zM483.57 465.04h2.31v19.05h-2.31zM485.84 485.20h2.31v4.43h-2.31zM488.11 435.13h2.31v11.63h-2.31zM490.38 447.87h2.31v30.13h-2.31zM492.65 441.77h2.31v11.08h-2.31zM494.92 514.56h2.31v22.15h-2.31zM497.19 476.12h2.31v29.58h-2.31zM499.46 435.13h2.31v18.28h-2.31zM501.73 434.57h2.31v17.73h-2.31zM504.00 473.90h2.31v18.50h-2.31zM506.27 478.00h2.31v4.99h-2.31zM508.55 411.86h2.31v9.97h-2.31zM510.82 468.36h2.31v6.65h-2.31zM513.09 525.64h2.31v13.84h-2.31zM515.36 450.64h2.31v17.72h-2.31zM517.63 495.73h2.31v9.97h-2.31zM519.90 478.00h2.31v7.75h-2.31zM522.17 395.25h2.31v7.75h-2.31zM524.44 500.71h2.31v5.54h-2.31zM526.71 447.31h2.31v34.57h-2.31zM528.98 473.90h2.31v16.84h-2.31zM531.25 524.53h2.31v4.98h-2.31zM533.52 556.88h2.31v7.75h-2.31zM535.79 440.11h2.31v4.99h-2.31zM538.06 478.00h2.31v13.85h-2.31zM540.33 462.82h2.31v5.54h-2.31zM542.60 478.00h2.31v7.20h-2.31zM544.87 431.25h2.31v9.42h-2.31zM547.14 458.39h2.31v19.61h-2.31zM549.41 377.30h2.31v17.72h-2.31zM551.68 455.62h2.31v12.74h-2.31zM556.23 434.57h2.31v4.43h-2.31zM558.50 405.77h2.31v47.64h-2.31zM560.77 479.11h2.31v3.32h-2.31zM565.31 505.70h2.31v5.53h-2.31zM567.58 499.60h2.31v6.65h-2.31zM569.85 411.86h2.31v2.22h-2.31zM572.12 400.56h2.31v13.52h-2.31zM574.39 455.07h2.31v17.72h-2.31zM576.66 478.00h2.31v56.50h-2.31zM578.93 478.00h2.31v19.94h-2.31zM581.20 478.00h2.31v17.17h-2.31zM590.28 478.00h2.31v5.54h-2.31zM592.55 437.90h2.31v31.02h-2.31zM594.82 421.28h2.31v44.87h-2.31zM597.09 425.16h2.31v52.84h-2.31zM599.37 478.00h2.31v31.02h-2.31zM601.64 548.90h2.31v5.76h-2.31zM603.91 500.71h2.31v26.03h-2.31zM606.18 479.11h2.31v12.18h-2.31zM608.45 467.25h2.31v2.77h-2.31zM610.72 447.87h2.31v19.94h-2.31zM612.99 433.47h2.31v25.48h-2.31zM615.26 478.00h2.31v4.43h-2.31zM617.53 496.83h2.31v5.54h-2.31zM619.80 431.80h2.31v19.94h-2.31zM622.07 434.57h2.31v9.97h-2.31zM624.34 432.36h2.31v22.71h-2.31zM626.61 480.77h2.31v29.36h-2.31zM628.88 521.21h2.31v7.75h-2.31zM631.15 441.22h2.31v27.70h-2.31zM633.42 449.53h2.31v2.77h-2.31zM635.69 447.87h2.31v13.84h-2.31zM637.96 508.47h2.31v5.53h-2.31zM640.23 447.31h2.31v2.22h-2.31zM642.50 478.00h2.31v8.31h-2.31zM644.78 500.71h2.31v2.22h-2.31zM647.05 501.26h2.31v8.31h-2.31zM649.32 520.10h2.31v7.75h-2.31zM651.59 543.92h2.31v1.10h-2.31zM653.86 501.82h2.31v8.86h-2.31zM656.13 449.53h2.31v8.86h-2.31zM658.40 446.76h2.31v36.23h-2.31zM660.67 445.65h2.31v32.35h-2.31zM662.94 433.47h2.31v17.17h-2.31zM665.21 432.91h2.31v16.62h-2.31zM667.48 494.06h2.31v26.04h-2.31zM669.75 478.00h2.31v14.96h-2.31zM676.56 427.93h2.31v8.86h-2.31zM678.83 452.85h2.31v11.08h-2.31zM681.10 450.64h2.31v7.75h-2.31zM683.37 487.97h2.31v14.40h-2.31zM685.64 448.97h2.31v29.03h-2.31zM687.91 447.87h2.31v21.60h-2.31zM690.18 517.88h2.31v2.77h-2.31zM692.46 462.82h2.31v29.03h-2.31zM694.73 454.51h2.31v15.51h-2.31zM697.00 464.48h2.31v22.94h-2.31zM699.27 457.84h2.31v11.08h-2.31zM701.54 455.07h2.31v5.54h-2.31z"/>
<path fill="#6a3d9a" d="M75.33 359.91h2.31v4.09h-2.31zM77.60 410.75h2.31v18.84h-2.31zM79.87 456.73h2.31v29.02h-2.31zM82.14 453.41h2.31v34.01h-2.31zM84.41 457.28h2.31v22.38h-2.31zM86.68 475.56h2.31v26.81h-2.31zM88.95 478.00h2.31v38.22h-2.31zM91.22 458.39h2.31v29.58h-2.31zM93.49 424.60h2.31v23.27h-2.31zM98.00 370.65h2.31v8.31h-2.31zM100.27 412.42h2.31v10.52h-2.31zM102.53 371.76h2.31v11.08h-2.31zM104.80 397.79h2.31v12.96h-2.31zM107.07 515.11h2.31v30.47h-2.31zM109.33 365.11h2.31v7.76h-2.31zM111.60 372.31h2.31v7.76h-2.31zM113.87 375.86h2.31v12.52h-2.31zM116.13 398.01h2.31v12.74h-2.31zM118.40 507.91h2.31v26.59h-2.31zM120.67 471.69h2.31v26.25h-2.31zM122.93 449.53h2.31v13.29h-2.31zM125.20 526.19h2.31v18.28h-2.31zM127.47 462.82h2.31v29.58h-2.31zM129.73 522.31h2.31v24.38h-2.31zM132.00 439.00h2.31v19.39h-2.31zM134.27 479.11h2.31v22.71h-2.31zM136.53 469.47h2.31v14.07h-2.31zM138.80 456.18h2.31v34.01h-2.31zM141.07 407.99h2.31v17.17h-2.31zM143.33 507.91h2.31v35.45h-2.31zM145.60 515.11h2.31v28.81h-2.31zM147.87 487.97h2.31v22.16h-2.31zM150.13 486.31h2.31v29.36h-2.31zM152.40 428.48h2.31v19.94h-2.31zM154.67 473.90h2.31v22.38h-2.31zM156.93 480.77h2.31v33.79h-2.31zM159.20 500.16h2.31v27.69h-2.31zM161.47 485.75h2.31v17.18h-2.31zM163.73 439.56h2.31v35.45h-2.31zM166.00 505.14h2.31v31.57h-2.31zM168.27 493.51h2.31v22.71h-2.31zM170.53 413.52h2.31v14.96h-2.31zM172.80 494.62h2.31v22.71h-2.31zM175.07 478.00h2.31v15.51h-2.31zM177.33 456.18h2.31v41.76h-2.31zM179.60 382.28h2.31v6.10h-2.31zM181.87 506.80h2.31v19.94h-2.31zM184.13 376.19h2.31v8.09h-2.31zM186.40 491.85h2.31v29.91h-2.31zM188.67 435.13h2.31v21.60h-2.31zM190.93 481.32h2.31v27.70h-2.31zM193.20 482.43h2.31v25.48h-2.31zM195.47 395.02h2.31v17.95h-2.31zM197.73 500.71h2.31v18.28h-2.31zM200.00 480.77h2.31v32.68h-2.31zM202.27 520.10h2.31v21.60h-2.31zM204.53 439.56h2.31v30.46h-2.31zM206.80 472.24h2.31v22.93h-2.31zM209.07 465.59h2.31v35.12h-2.31zM211.34 487.42h2.31v16.61h-2.31zM213.60 487.97h2.31v19.39h-2.31zM215.87 426.82h2.31v18.83h-2.31zM218.14 426.82h2.31v18.83h-2.31zM220.40 471.69h2.31v10.19h-2.31zM222.67 458.95h2.31v23.48h-2.31zM224.94 439.00h2.31v20.50h-2.31zM227.20 478.00h2.31v20.49h-2.31zM229.47 478.00h2.31v24.93h-2.31zM231.74 427.93h2.31v18.28h-2.31zM234.00 425.16h2.31v20.49h-2.31zM236.27 473.90h2.31v36.23h-2.31zM238.54 494.06h2.31v24.93h-2.31zM240.80 421.28h2.31v23.82h-2.31zM243.07 485.75h2.31v23.82h-2.31zM245.34 465.59h2.31v38.44h-2.31zM247.60 462.82h2.31v29.03h-2.31zM249.87 498.49h2.31v26.59h-2.31zM252.14 475.01h2.31v30.69h-2.31zM254.40 472.24h2.31v35.67h-2.31zM256.67 407.99h2.31v11.07h-2.31zM258.94 439.00h2.31v12.74h-2.31zM261.20 475.01h2.31v26.81h-2.31zM263.47 475.56h2.31v22.93h-2.31zM265.74 431.80h2.31v22.71h-2.31zM268.00 478.00h2.31v22.71h-2.31zM270.27 464.48h2.31v36.78h-2.31zM272.54 473.90h2.31v12.96h-2.31zM274.80 499.05h2.31v16.62h-2.31zM277.07 409.65h2.31v12.18h-2.31zM279.34 465.04h2.31v15.73h-2.31zM281.60 478.00h2.31v34.34h-2.31zM283.87 462.82h2.31v20.17h-2.31zM286.14 472.79h2.31v15.73h-2.31zM288.40 494.62h2.31v28.25h-2.31zM290.67 463.93h2.31v24.04h-2.31zM292.94 413.52h2.31v22.16h-2.31zM295.20 469.47h2.31v24.59h-2.31zM297.47 467.25h2.31v36.78h-2.31zM299.74 491.29h2.31v23.82h-2.31zM304.20 383.95h2.31v2.99h-2.31zM306.47 342.62h2.31v4.21h-2.31zM308.74 538.38h2.31v7.75h-2.31zM311.01 522.87h2.31v9.97h-2.31zM313.28 427.93h2.31v7.20h-2.31zM315.55 421.28h2.31v28.25h-2.31zM317.82 499.05h2.31v7.20h-2.31zM320.09 491.29h2.31v3.88h-2.31zM322.36 464.48h2.31v15.18h-2.31zM324.63 366.00h2.31v4.10h-2.31zM326.90 531.18h2.31v16.61h-2.31zM329.18 438.45h2.31v8.31h-2.31zM331.45 453.41h2.31v9.97h-2.31zM333.72 478.00h2.31v14.96h-2.31zM335.99 410.75h2.31v11.64h-2.31zM338.26 422.94h2.31v9.97h-2.31zM340.53 447.87h2.31v13.84h-2.31zM342.80 487.42h2.31v19.38h-2.31zM345.07 426.82h2.31v19.94h-2.31zM347.34 396.91h2.31v17.17h-2.31zM349.61 441.77h2.31v31.58h-2.31zM351.88 554.11h2.31v8.86h-2.31zM354.15 487.97h2.31v18.28h-2.31zM356.42 437.34h2.31v10.53h-2.31zM358.69 484.09h2.31v33.79h-2.31zM360.96 486.31h2.31v9.42h-2.31zM363.23 437.90h2.31v7.20h-2.31zM365.50 478.00h2.31v11.63h-2.31zM367.77 452.30h2.31v5.54h-2.31zM370.04 398.90h2.31v22.38h-2.31zM372.31 488.52h2.31v9.42h-2.31zM374.59 400.01h2.31v24.04h-2.31zM376.86 478.00h2.31v3.88h-2.31zM379.13 382.84h2.31v26.25h-2.31zM381.40 439.56h2.31v18.28h-2.31zM383.67 376.74h2.31v15.29h-2.31zM385.94 461.16h2.31v24.59h-2.31zM388.21 385.05h2.31v9.97h-2.31zM390.48 478.00h2.31v6.09h-2.31zM392.75 403.00h2.31v12.19h-2.31zM395.02 385.61h2.31v8.31h-2.31zM397.29 417.96h2.31v24.37h-2.31zM399.56 523.42h2.31v7.76h-2.31zM401.83 525.64h2.31v21.05h-2.31zM404.10 398.90h2.31v19.61h-2.31zM406.37 478.00h2.31v13.85h-2.31zM408.64 526.19h2.31v17.73h-2.31zM410.91 392.81h2.31v15.73h-2.31zM413.18 375.86h2.31v24.70h-2.31zM415.45 496.28h2.31v28.80h-2.31zM417.73 465.04h2.31v15.18h-2.31zM420.00 375.86h2.31v24.15h-2.31zM422.27 496.83h2.31v18.84h-2.31zM424.54 349.94h2.31v1.88h-2.31zM426.81 487.42h2.31v6.64h-2.31zM429.08 434.57h2.31v6.10h-2.31zM431.35 374.53h2.31v7.53h-2.31zM433.62 412.42h2.31v19.38h-2.31zM435.89 424.60h2.31v24.37h-2.31zM438.16 440.67h2.31v9.97h-2.31zM440.43 441.22h2.31v15.51h-2.31zM442.70 499.05h2.31v19.94h-2.31zM444.97 413.52h2.31v7.21h-2.31zM447.24 426.26h2.31v37.67h-2.31zM449.51 437.90h2.31v28.80h-2.31zM451.78 417.40h2.31v21.60h-2.31zM454.05 484.09h2.31v12.74h-2.31zM456.32 374.53h2.31v5.54h-2.31zM458.59 399.45h2.31v18.51h-2.31zM460.86 429.03h2.31v23.82h-2.31zM463.13 404.11h2.31v11.08h-2.31zM465.41 475.01h2.31v14.07h-2.31zM467.68 379.85h2.31v10.19h-2.31zM469.95 450.08h2.31v17.17h-2.31zM472.22 440.11h2.31v12.19h-2.31zM474.49 414.63h2.31v17.73h-2.31zM476.76 478.00h2.31v12.74h-2.31zM479.03 429.03h2.31v12.19h-2.31zM481.30 407.99h2.31v11.63h-2.31zM483.57 450.08h2.31v14.96h-2.31zM485.84 468.92h2.31v16.28h-2.31zM488.11 417.96h2.31v17.17h-2.31zM490.38 420.73h2.31v27.14h-2.31zM492.65 420.73h2.31v21.04h-2.31zM494.92 511.23h2.31v3.33h-2.31zM497.19 469.47h2.31v6.65h-2.31zM499.46 415.74h2.31v19.39h-2.31zM501.73 417.96h2.31v16.61h-2.31zM504.00 463.38h2.31v10.52h-2.31zM506.27 460.05h2.31v17.95h-2.31zM508.55 402.00h2.31v9.86h-2.31zM510.82 457.84h2.31v10.52h-2.31zM513.09 493.51h2.31v32.13h-2.31zM515.36 424.05h2.31v26.59h-2.31zM517.63 483.54h2.31v12.19h-2.31zM519.90 465.59h2.31v12.41h-2.31zM522.17 388.93h2.31v6.32h-2.31zM524.44 478.00h2.31v22.71h-2.31zM526.71 440.11h2.31v7.20h-2.31zM528.98 447.31h2.31v26.59h-2.31zM531.25 515.11h2.31v9.42h-2.31zM533.52 540.59h2.31v16.29h-2.31zM535.79 420.73h2.31v19.38h-2.31zM538.06 441.77h2.31v36.23h-2.31zM540.33 444.54h2.31v18.28h-2.31zM544.87 411.86h2.31v19.39h-2.31zM547.14 440.67h2.31v17.72h-2.31zM549.41 372.09h2.31v5.21h-2.31zM551.68 441.77h2.31v13.85h-2.31zM553.96 426.82h2.31v24.92h-2.31zM556.23 423.49h2.31v11.08h-2.31zM558.50 400.56h2.31v5.21h-2.31zM560.77 460.61h2.31v18.50h-2.31zM565.31 482.99h2.31v22.71h-2.31zM567.58 468.92h2.31v30.68h-2.31zM569.85 399.23h2.31v12.63h-2.31zM572.12 380.95h2.31v19.61h-2.31zM574.39 429.03h2.31v26.04h-2.31zM576.66 457.84h2.31v20.16h-2.31zM578.93 464.48h2.31v13.52h-2.31zM581.20 444.54h2.31v33.46h-2.31zM583.47 434.02h2.31v43.98h-2.31zM585.74 426.26h2.31v27.15h-2.31zM588.01 455.07h2.31v22.93h-2.31zM590.28 451.19h2.31v26.81h-2.31zM592.55 421.28h2.31v16.62h-2.31zM594.82 414.08h2.31v7.20h-2.31zM597.09 417.40h2.31v7.76h-2.31zM599.37 453.41h2.31v24.59h-2.31zM601.64 543.36h2.31v5.54h-2.31zM603.91 495.17h2.31v5.54h-2.31zM606.18 464.48h2.31v14.63h-2.31zM608.45 436.23h2.31v31.02h-2.31zM610.72 417.40h2.31v30.47h-2.31zM612.99 424.05h2.31v9.42h-2.31zM615.26 457.84h2.31v20.16h-2.31zM617.53 464.48h2.31v32.35h-2.31zM619.80 419.06h2.31v12.74h-2.31zM622.07 416.29h2.31v18.28h-2.31zM624.34 418.51h2.31v13.85h-2.31zM626.61 467.25h2.31v13.52h-2.31zM628.88 507.91h2.31v13.30h-2.31zM631.15 422.94h2.31v18.28h-2.31zM633.42 441.22h2.31v8.31h-2.31zM635.69 435.68h2.31v12.19h-2.31zM637.96 470.02h2.31v38.45h-2.31zM640.23 434.57h2.31v12.74h-2.31zM642.50 463.93h2.31v14.07h-2.31zM644.78 486.86h2.31v13.85h-2.31zM647.05 464.48h2.31v36.78h-2.31zM649.32 505.70h2.31v14.40h-2.31zM651.59 527.85h2.31v16.07h-2.31zM653.86 463.93h2.31v37.89h-2.31zM656.13 445.10h2.31v4.43h-2.31zM658.40 444.54h2.31v2.22h-2.31zM660.67 423.49h2.31v22.16h-2.31zM662.94 419.62h2.31v13.85h-2.31zM665.21 425.71h2.31v7.20h-2.31zM667.48 447.31h2.31v46.75h-2.31zM669.75 448.42h2.31v29.58h-2.31zM672.02 447.31h2.31v24.38h-2.31zM674.29 439.00h2.31v31.02h-2.31zM676.56 412.97h2.31v14.96h-2.31zM678.83 440.11h2.31v12.74h-2.31zM681.10 441.77h2.31v8.87h-2.31zM683.37 472.79h2.31v15.18h-2.31zM685.64 437.90h2.31v11.07h-2.31zM687.91 438.45h2.31v9.42h-2.31zM690.18 492.40h2.31v25.48h-2.31zM692.46 432.91h2.31v29.91h-2.31zM694.73 440.11h2.31v14.40h-2.31zM697.00 455.62h2.31v8.86h-2.31zM699.27 446.76h2.31v11.08h-2.31zM701.54 440.67h2.31v14.40h-2.31z"/>
<path fill="#f59b98" d="M75.33 353.26h2.31v6.65h-2.31zM77.60 393.14h2.31v17.61h-2.31zM79.87 437.90h2.31v18.83h-2.31zM82.14 436.23h2.31v17.18h-2.31zM84.41 447.87h2.31v9.41h-2.31zM86.68 458.95h2.31v16.61h-2.31zM88.95 452.85h2.31v25.15h-2.31zM91.22 443.99h2.31v14.40h-2.31zM93.49 392.03h2.31v32.57h-2.31zM98.00 365.89h2.31v4.76h-2.31zM100.27 400.56h2.31v11.86h-2.31zM102.53 365.11h2.31v6.65h-2.31zM104.80 391.15h2.31v6.64h-2.31zM107.07 488.52h2.31v26.59h-2.31zM109.33 357.91h2.31v7.20h-2.31zM111.60 365.11h2.31v7.20h-2.31zM113.87 366.22h2.31v9.64h-2.31zM116.13 391.15h2.31v6.86h-2.31zM118.40 486.86h2.31v21.05h-2.31zM120.67 460.61h2.31v11.08h-2.31zM122.93 431.80h2.31v17.73h-2.31zM125.20 501.82h2.31v24.37h-2.31zM127.47 444.54h2.31v18.28h-2.31zM129.73 492.96h2.31v29.35h-2.31zM132.00 425.71h2.31v13.29h-2.31zM134.27 459.50h2.31v19.61h-2.31zM136.53 429.92h2.31v39.55h-2.31zM138.80 437.90h2.31v18.28h-2.31zM141.07 393.92h2.31v14.07h-2.31zM143.33 489.63h2.31v18.28h-2.31zM145.60 492.96h2.31v22.15h-2.31zM147.87 467.25h2.31v20.72h-2.31zM150.13 471.69h2.31v14.62h-2.31zM152.40 418.51h2.31v9.97h-2.31zM154.67 448.42h2.31v25.48h-2.31zM156.93 460.05h2.31v20.72h-2.31zM159.20 473.90h2.31v26.26h-2.31zM161.47 466.70h2.31v19.05h-2.31zM163.73 427.37h2.31v12.19h-2.31zM166.00 484.65h2.31v20.49h-2.31zM168.27 468.92h2.31v24.59h-2.31zM170.53 401.12h2.31v12.40h-2.31zM172.80 467.25h2.31v27.37h-2.31zM175.07 462.27h2.31v15.73h-2.31zM177.33 446.76h2.31v9.42h-2.31zM179.60 375.08h2.31v7.20h-2.31zM181.87 480.77h2.31v26.03h-2.31zM184.13 368.10h2.31v8.09h-2.31zM186.40 473.90h2.31v17.95h-2.31zM188.67 418.51h2.31v16.62h-2.31zM190.93 459.50h2.31v21.82h-2.31zM193.20 467.25h2.31v15.18h-2.31zM195.47 386.49h2.31v8.53h-2.31zM197.73 480.22h2.31v20.49h-2.31zM200.00 462.27h2.31v18.50h-2.31zM202.27 499.60h2.31v20.50h-2.31zM204.53 420.73h2.31v18.83h-2.31zM206.80 448.64h2.31v23.60h-2.31zM209.07 446.76h2.31v18.83h-2.31zM211.34 471.13h2.31v16.29h-2.31zM213.60 471.69h2.31v16.28h-2.31zM215.87 406.88h2.31v19.94h-2.31zM218.14 409.65h2.31v17.17h-2.31zM220.40 456.73h2.31v14.96h-2.31zM222.67 442.88h2.31v16.07h-2.31zM224.94 420.39h2.31v18.61h-2.31zM227.20 468.92h2.31v9.08h-2.31zM229.47 463.93h2.31v14.07h-2.31zM231.74 410.75h2.31v17.18h-2.31zM234.00 412.42h2.31v12.74h-2.31zM236.27 457.28h2.31v16.62h-2.31zM238.54 475.56h2.31v18.50h-2.31zM240.80 406.32h2.31v14.96h-2.31zM243.07 461.71h2.31v24.04h-2.31zM245.34 448.42h2.31v17.17h-2.31zM247.60 445.65h2.31v17.17h-2.31zM249.87 475.56h2.31v22.93h-2.31zM252.14 450.64h2.31v24.37h-2.31zM254.40 444.54h2.31v27.70h-2.31zM256.67 392.81h2.31v15.18h-2.31zM258.94 421.28h2.31v17.72h-2.31zM261.20 455.62h2.31v19.39h-2.31zM263.47 451.74h2.31v23.82h-2.31zM265.74 410.75h2.31v21.05h-2.31zM268.00 452.30h2.31v25.70h-2.31zM270.27 450.64h2.31v13.84h-2.31zM272.54 456.73h2.31v17.17h-2.31zM274.80 478.00h2.31v21.05h-2.31zM277.07 401.67h2.31v7.98h-2.31zM279.34 448.64h2.31v16.40h-2.31zM281.60 468.92h2.31v9.08h-2.31zM283.87 442.88h2.31v19.94h-2.31zM286.14 448.97h2.31v23.82h-2.31zM288.40 476.12h2.31v18.50h-2.31zM290.67 447.87h2.31v16.06h-2.31zM292.94 395.58h2.31v17.94h-2.31zM295.20 450.64h2.31v18.83h-2.31zM297.47 450.64h2.31v16.61h-2.31zM299.74 476.12h2.31v15.17h-2.31zM304.20 377.52h2.31v6.43h-2.31zM306.47 341.85h2.31v0.77h-2.31zM308.74 528.96h2.31v9.42h-2.31zM311.01 507.36h2.31v15.51h-2.31zM313.28 404.66h2.31v23.27h-2.31zM315.55 409.65h2.31v11.63h-2.31zM317.82 478.00h2.31v21.05h-2.31zM320.09 458.39h2.31v32.90h-2.31zM322.36 434.57h2.31v29.91h-2.31zM324.63 362.90h2.31v3.10h-2.31zM326.90 512.90h2.31v18.28h-2.31zM329.18 427.93h2.31v10.52h-2.31zM331.45 445.65h2.31v7.76h-2.31zM333.72 464.48h2.31v13.52h-2.31zM335.99 403.00h2.31v7.75h-2.31zM338.26 405.77h2.31v17.17h-2.31zM340.53 435.13h2.31v12.74h-2.31zM342.80 469.47h2.31v17.95h-2.31zM345.07 412.97h2.31v13.85h-2.31zM347.34 390.59h2.31v6.32h-2.31zM349.61 426.26h2.31v15.51h-2.31zM351.88 546.69h2.31v7.42h-2.31zM354.15 476.12h2.31v11.85h-2.31zM356.42 417.96h2.31v19.38h-2.31zM358.69 469.47h2.31v14.62h-2.31zM360.96 475.01h2.31v11.30h-2.31zM363.23 424.05h2.31v13.85h-2.31zM365.50 453.41h2.31v24.59h-2.31zM367.77 430.70h2.31v21.60h-2.31zM370.04 390.04h2.31v8.86h-2.31zM372.31 473.90h2.31v14.62h-2.31zM374.59 387.49h2.31v12.52h-2.31zM376.86 460.61h2.31v17.39h-2.31zM379.13 377.85h2.31v4.99h-2.31zM381.40 429.59h2.31v9.97h-2.31zM383.67 371.21h2.31v5.53h-2.31zM385.94 445.65h2.31v15.51h-2.31zM388.21 377.85h2.31v7.20h-2.31zM390.48 461.71h2.31v16.29h-2.31zM392.75 396.69h2.31v6.31h-2.31zM395.02 378.41h2.31v7.20h-2.31zM397.29 405.77h2.31v12.19h-2.31zM399.56 512.90h2.31v10.52h-2.31zM401.83 515.11h2.31v10.53h-2.31zM404.10 388.16h2.31v10.74h-2.31zM406.37 458.39h2.31v19.61h-2.31zM408.64 511.79h2.31v14.40h-2.31zM410.91 383.95h2.31v8.86h-2.31zM413.18 366.22h2.31v9.64h-2.31zM415.45 484.65h2.31v11.63h-2.31zM417.73 440.67h2.31v24.37h-2.31zM420.00 366.77h2.31v9.09h-2.31zM422.27 476.12h2.31v20.71h-2.31zM424.54 348.49h2.31v1.45h-2.31zM426.81 472.79h2.31v14.63h-2.31zM429.08 421.28h2.31v13.29h-2.31zM431.35 372.09h2.31v2.44h-2.31zM433.62 397.79h2.31v14.63h-2.31zM435.89 411.86h2.31v12.74h-2.31zM438.16 430.14h2.31v10.53h-2.31zM440.43 431.80h2.31v9.42h-2.31zM442.70 489.63h2.31v9.42h-2.31zM444.97 403.00h2.31v10.52h-2.31zM447.24 407.99h2.31v18.27h-2.31zM449.51 426.82h2.31v11.08h-2.31zM451.78 403.00h2.31v14.40h-2.31zM454.05 472.24h2.31v11.85h-2.31zM456.32 368.77h2.31v5.76h-2.31zM458.59 387.27h2.31v12.18h-2.31zM460.86 410.75h2.31v18.28h-2.31zM463.13 401.12h2.31v2.99h-2.31zM465.41 457.84h2.31v17.17h-2.31zM467.68 377.08h2.31v2.77h-2.31zM469.95 439.56h2.31v10.52h-2.31zM472.22 425.71h2.31v14.40h-2.31zM474.49 404.11h2.31v10.52h-2.31zM476.76 460.61h2.31v17.39h-2.31zM479.03 416.85h2.31v12.18h-2.31zM481.30 398.90h2.31v9.09h-2.31zM483.57 441.22h2.31v8.86h-2.31zM485.84 454.51h2.31v14.41h-2.31zM488.11 406.88h2.31v11.08h-2.31zM490.38 408.54h2.31v12.19h-2.31zM492.65 412.97h2.31v7.76h-2.31zM494.92 498.49h2.31v12.74h-2.31zM497.19 450.64h2.31v18.83h-2.31zM499.46 401.12h2.31v14.62h-2.31zM501.73 405.77h2.31v12.19h-2.31zM504.00 450.64h2.31v12.74h-2.31zM506.27 445.10h2.31v14.95h-2.31zM508.55 395.25h2.31v6.75h-2.31zM510.82 451.74h2.31v6.10h-2.31zM513.09 475.01h2.31v18.50h-2.31zM515.36 409.09h2.31v14.96h-2.31zM517.63 466.70h2.31v16.84h-2.31zM519.90 451.74h2.31v13.85h-2.31zM522.17 382.62h2.31v6.31h-2.31zM524.44 466.15h2.31v11.85h-2.31zM526.71 427.93h2.31v12.18h-2.31zM528.98 435.13h2.31v12.18h-2.31zM531.25 482.99h2.31v32.12h-2.31zM533.52 511.23h2.31v29.36h-2.31zM535.79 410.20h2.31v10.53h-2.31zM538.06 424.60h2.31v17.17h-2.31zM540.33 435.13h2.31v9.41h-2.31zM542.60 446.76h2.31v31.24h-2.31zM544.87 404.11h2.31v7.75h-2.31zM547.14 427.37h2.31v13.30h-2.31zM549.41 365.67h2.31v6.42h-2.31zM551.68 426.82h2.31v14.95h-2.31zM553.96 415.19h2.31v11.63h-2.31zM556.23 412.42h2.31v11.07h-2.31zM558.50 382.51h2.31v18.05h-2.31zM560.77 445.65h2.31v14.96h-2.31zM563.04 451.74h2.31v26.26h-2.31zM565.31 471.13h2.31v11.86h-2.31zM567.58 446.76h2.31v22.16h-2.31zM569.85 388.93h2.31v10.30h-2.31zM572.12 375.86h2.31v5.09h-2.31zM574.39 408.54h2.31v20.49h-2.31zM576.66 441.22h2.31v16.62h-2.31zM578.93 441.22h2.31v23.26h-2.31zM581.20 424.05h2.31v20.49h-2.31zM583.47 420.17h2.31v13.85h-2.31zM585.74 414.63h2.31v11.63h-2.31zM588.01 442.33h2.31v12.74h-2.31zM590.28 431.80h2.31v19.39h-2.31zM592.55 411.86h2.31v9.42h-2.31zM594.82 396.91h2.31v17.17h-2.31zM597.09 403.00h2.31v14.40h-2.31zM599.37 434.57h2.31v18.84h-2.31zM601.64 511.23h2.31v32.13h-2.31zM603.91 475.56h2.31v19.61h-2.31zM606.18 451.19h2.31v13.29h-2.31zM608.45 426.82h2.31v9.41h-2.31zM610.72 405.77h2.31v11.63h-2.31zM612.99 410.20h2.31v13.85h-2.31zM615.26 444.54h2.31v13.30h-2.31zM617.53 450.64h2.31v13.84h-2.31zM619.80 410.75h2.31v8.31h-2.31zM622.07 407.99h2.31v8.30h-2.31zM624.34 408.54h2.31v9.97h-2.31zM626.61 446.76h2.31v20.49h-2.31zM628.88 498.49h2.31v9.42h-2.31zM631.15 409.65h2.31v13.29h-2.31zM633.42 436.79h2.31v4.43h-2.31zM635.69 430.70h2.31v4.98h-2.31zM637.96 455.07h2.31v14.95h-2.31zM640.23 431.25h2.31v3.32h-2.31zM642.50 443.99h2.31v19.94h-2.31zM644.78 479.66h2.31v7.20h-2.31zM647.05 447.87h2.31v16.61h-2.31zM649.32 495.73h2.31v9.97h-2.31zM651.59 525.08h2.31v2.77h-2.31zM653.86 452.30h2.31v11.63h-2.31zM656.13 424.05h2.31v21.05h-2.31zM658.40 422.94h2.31v21.60h-2.31zM660.67 404.66h2.31v18.83h-2.31zM662.94 406.32h2.31v13.30h-2.31zM665.21 411.86h2.31v13.85h-2.31zM667.48 430.70h2.31v16.61h-2.31zM669.75 434.57h2.31v13.85h-2.31zM672.02 440.11h2.31v7.20h-2.31zM674.29 425.71h2.31v13.29h-2.31zM676.56 403.00h2.31v9.97h-2.31zM678.83 429.03h2.31v11.08h-2.31zM681.10 434.02h2.31v7.75h-2.31zM683.37 457.28h2.31v15.51h-2.31zM685.64 421.28h2.31v16.62h-2.31zM687.91 425.16h2.31v13.29h-2.31zM690.18 484.09h2.31v8.31h-2.31zM692.46 421.28h2.31v11.63h-2.31zM694.73 427.93h2.31v12.18h-2.31zM697.00 445.65h2.31v9.97h-2.31zM699.27 430.70h2.31v16.06h-2.31zM701.54 415.19h2.31v25.48h-2.31z"/>
<path fill="#2f9e44" d="M75.33 352.59h2.31v0.67h-2.31zM77.60 389.26h2.31v3.88h-2.31zM79.87 431.80h2.31v6.10h-2.31zM82.14 433.47h2.31v2.76h-2.31zM84.41 443.99h2.31v3.88h-2.31zM86.68 453.96h2.31v4.99h-2.31zM88.95 448.42h2.31v4.43h-2.31zM91.22 440.11h2.31v3.88h-2.31zM93.49 390.92h2.31v1.11h-2.31zM98.00 353.48h2.31v12.41h-2.31zM100.27 390.92h2.31v9.64h-2.31zM102.53 361.23h2.31v3.88h-2.31zM104.80 387.82h2.31v3.33h-2.31zM107.07 485.75h2.31v2.77h-2.31zM109.33 352.93h2.31v4.98h-2.31zM111.60 360.35h2.31v4.76h-2.31zM113.87 363.23h2.31v2.99h-2.31zM116.13 383.95h2.31v7.20h-2.31zM118.40 484.09h2.31v2.77h-2.31zM120.67 449.53h2.31v11.08h-2.31zM122.93 425.16h2.31v6.64h-2.31zM125.20 498.49h2.31v3.33h-2.31zM127.47 439.00h2.31v5.54h-2.31zM129.73 483.54h2.31v9.42h-2.31zM132.00 399.79h2.31v25.92h-2.31zM134.27 453.07h2.31v6.43h-2.31zM136.53 427.93h2.31v1.99h-2.31zM138.80 434.02h2.31v3.88h-2.31zM141.07 385.39h2.31v8.53h-2.31zM143.33 487.97h2.31v1.66h-2.31zM145.60 488.52h2.31v4.44h-2.31zM147.87 462.82h2.31v4.43h-2.31zM150.13 466.70h2.31v4.99h-2.31zM152.40 407.43h2.31v11.08h-2.31zM154.67 443.44h2.31v4.98h-2.31zM156.93 456.18h2.31v3.87h-2.31zM159.20 467.25h2.31v6.65h-2.31zM161.47 463.93h2.31v2.77h-2.31zM163.73 422.39h2.31v4.98h-2.31zM166.00 480.22h2.31v4.43h-2.31zM168.27 465.04h2.31v3.88h-2.31zM170.53 392.25h2.31v8.87h-2.31zM172.80 462.82h2.31v4.43h-2.31zM175.07 453.96h2.31v8.31h-2.31zM177.33 440.67h2.31v6.09h-2.31zM179.60 371.21h2.31v3.87h-2.31zM181.87 477.22h2.31v3.55h-2.31zM184.13 364.00h2.31v4.10h-2.31zM186.40 468.36h2.31v5.54h-2.31zM188.67 409.65h2.31v8.86h-2.31zM190.93 457.28h2.31v2.22h-2.31zM193.20 462.82h2.31v4.43h-2.31zM195.47 382.06h2.31v4.43h-2.31zM197.73 472.79h2.31v7.43h-2.31zM200.00 451.74h2.31v10.53h-2.31zM202.27 495.17h2.31v4.43h-2.31zM204.53 418.51h2.31v2.22h-2.31zM206.80 445.65h2.31v2.99h-2.31zM209.07 441.22h2.31v5.54h-2.31zM211.34 466.15h2.31v4.98h-2.31zM213.60 468.92h2.31v2.77h-2.31zM215.87 394.25h2.31v12.63h-2.31zM218.14 407.43h2.31v2.22h-2.31zM220.40 452.30h2.31v4.43h-2.31zM222.67 438.45h2.31v4.43h-2.31zM224.94 417.96h2.31v2.43h-2.31zM227.20 465.59h2.31v3.33h-2.31zM229.47 455.62h2.31v8.31h-2.31zM231.74 407.99h2.31v2.76h-2.31zM234.00 405.22h2.31v7.20h-2.31zM236.27 452.30h2.31v4.98h-2.31zM238.54 472.79h2.31v2.77h-2.31zM240.80 396.91h2.31v9.41h-2.31zM243.07 457.28h2.31v4.43h-2.31zM245.34 439.00h2.31v9.42h-2.31zM247.60 442.88h2.31v2.77h-2.31zM249.87 472.24h2.31v3.32h-2.31zM252.14 439.00h2.31v11.64h-2.31zM254.40 436.23h2.31v8.31h-2.31zM256.67 383.06h2.31v9.75h-2.31zM258.94 405.22h2.31v16.06h-2.31zM261.20 454.51h2.31v1.11h-2.31zM263.47 446.76h2.31v4.98h-2.31zM265.74 409.09h2.31v1.66h-2.31zM268.00 448.97h2.31v3.33h-2.31zM270.27 445.10h2.31v5.54h-2.31zM272.54 455.07h2.31v1.66h-2.31zM274.80 475.56h2.31v2.44h-2.31zM277.07 392.03h2.31v9.64h-2.31zM279.34 447.31h2.31v1.33h-2.31zM281.60 467.81h2.31v1.11h-2.31zM283.87 441.77h2.31v1.11h-2.31zM286.14 442.88h2.31v6.09h-2.31zM288.40 473.35h2.31v2.77h-2.31zM290.67 443.99h2.31v3.88h-2.31zM292.94 390.92h2.31v4.66h-2.31zM295.20 444.54h2.31v6.10h-2.31zM297.47 443.99h2.31v6.65h-2.31zM299.74 467.81h2.31v8.31h-2.31zM304.20 370.10h2.31v7.42h-2.31zM306.47 338.86h2.31v2.99h-2.31zM308.74 527.30h2.31v1.66h-2.31zM311.01 499.05h2.31v8.31h-2.31zM313.28 396.91h2.31v7.75h-2.31zM315.55 397.79h2.31v11.86h-2.31zM317.82 470.02h2.31v7.98h-2.31zM320.09 455.95h2.31v2.44h-2.31zM322.36 416.07h2.31v18.50h-2.31zM324.63 357.91h2.31v4.99h-2.31zM326.90 504.03h2.31v8.87h-2.31zM329.18 390.92h2.31v37.01h-2.31zM331.45 440.11h2.31v5.54h-2.31zM333.72 441.77h2.31v22.71h-2.31zM335.99 396.91h2.31v6.09h-2.31zM338.26 403.00h2.31v2.77h-2.31zM340.53 429.59h2.31v5.54h-2.31zM342.80 466.15h2.31v3.32h-2.31zM345.07 409.09h2.31v3.88h-2.31zM347.34 375.42h2.31v15.17h-2.31zM349.61 419.62h2.31v6.64h-2.31zM351.88 541.15h2.31v5.54h-2.31zM354.15 439.00h2.31v37.12h-2.31zM356.42 407.99h2.31v9.97h-2.31zM358.69 462.82h2.31v6.65h-2.31zM360.96 468.92h2.31v6.09h-2.31zM363.23 419.06h2.31v4.99h-2.31zM365.50 450.08h2.31v3.33h-2.31zM367.77 417.96h2.31v12.74h-2.31zM370.04 379.51h2.31v10.53h-2.31zM372.31 455.07h2.31v18.83h-2.31zM374.59 382.84h2.31v4.65h-2.31zM376.86 458.95h2.31v1.66h-2.31zM379.13 370.98h2.31v6.87h-2.31zM381.40 424.05h2.31v5.54h-2.31zM383.67 366.00h2.31v5.21h-2.31zM385.94 441.77h2.31v3.88h-2.31zM388.21 370.10h2.31v7.75h-2.31zM390.48 459.50h2.31v2.21h-2.31zM392.75 376.74h2.31v19.95h-2.31zM395.02 368.99h2.31v9.42h-2.31zM397.29 400.01h2.31v5.76h-2.31zM399.56 506.80h2.31v6.10h-2.31zM401.83 510.13h2.31v4.98h-2.31zM404.10 381.73h2.31v6.43h-2.31zM406.37 415.74h2.31v42.65h-2.31zM408.64 506.80h2.31v4.99h-2.31zM410.91 375.08h2.31v8.87h-2.31zM413.18 360.68h2.31v5.54h-2.31zM415.45 472.79h2.31v11.86h-2.31zM417.73 437.34h2.31v3.33h-2.31zM420.00 361.01h2.31v5.76h-2.31zM422.27 467.25h2.31v8.87h-2.31zM424.54 346.28h2.31v2.21h-2.31zM426.81 470.02h2.31v2.77h-2.31zM429.08 415.19h2.31v6.09h-2.31zM431.35 365.11h2.31v6.98h-2.31zM433.62 388.93h2.31v8.86h-2.31zM435.89 406.88h2.31v4.98h-2.31zM438.16 422.39h2.31v7.75h-2.31zM440.43 420.17h2.31v11.63h-2.31zM442.70 484.65h2.31v4.98h-2.31zM444.97 396.91h2.31v6.09h-2.31zM447.24 404.66h2.31v3.33h-2.31zM449.51 417.96h2.31v8.86h-2.31zM451.78 396.91h2.31v6.09h-2.31zM454.05 467.81h2.31v4.43h-2.31zM456.32 364.78h2.31v3.99h-2.31zM458.59 380.62h2.31v6.65h-2.31zM460.86 404.11h2.31v6.64h-2.31zM463.13 392.03h2.31v9.09h-2.31zM465.41 446.76h2.31v11.08h-2.31zM467.68 373.42h2.31v3.66h-2.31zM469.95 435.68h2.31v3.88h-2.31zM472.22 420.73h2.31v4.98h-2.31zM474.49 397.24h2.31v6.87h-2.31zM476.76 458.39h2.31v2.22h-2.31zM479.03 406.88h2.31v9.97h-2.31zM481.30 390.92h2.31v7.98h-2.31zM483.57 435.13h2.31v6.09h-2.31zM485.84 443.99h2.31v10.52h-2.31zM488.11 401.12h2.31v5.76h-2.31zM490.38 395.02h2.31v13.52h-2.31zM492.65 406.88h2.31v6.09h-2.31zM494.92 492.40h2.31v6.09h-2.31zM497.19 445.10h2.31v5.54h-2.31zM499.46 394.47h2.31v6.65h-2.31zM501.73 401.12h2.31v4.65h-2.31zM504.00 432.36h2.31v18.28h-2.31zM506.27 440.11h2.31v4.99h-2.31zM508.55 388.93h2.31v6.32h-2.31zM510.82 447.87h2.31v3.87h-2.31zM513.09 471.69h2.31v3.32h-2.31zM515.36 407.43h2.31v1.66h-2.31zM517.63 457.84h2.31v8.86h-2.31zM519.90 445.65h2.31v6.09h-2.31zM522.17 378.96h2.31v3.66h-2.31zM524.44 460.61h2.31v5.54h-2.31zM526.71 420.73h2.31v7.20h-2.31zM528.98 430.14h2.31v4.99h-2.31zM531.25 479.11h2.31v3.88h-2.31zM533.52 505.70h2.31v5.53h-2.31zM535.79 403.55h2.31v6.65h-2.31zM538.06 416.29h2.31v8.31h-2.31zM540.33 431.25h2.31v3.88h-2.31zM542.60 437.90h2.31v8.86h-2.31zM544.87 396.91h2.31v7.20h-2.31zM547.14 423.49h2.31v3.88h-2.31zM549.41 361.79h2.31v3.88h-2.31zM551.68 420.17h2.31v6.65h-2.31zM553.96 408.54h2.31v6.65h-2.31zM556.23 405.22h2.31v7.20h-2.31zM558.50 376.52h2.31v5.99h-2.31zM560.77 436.23h2.31v9.42h-2.31zM563.04 445.65h2.31v6.09h-2.31zM565.31 465.04h2.31v6.09h-2.31zM567.58 443.99h2.31v2.77h-2.31zM569.85 380.95h2.31v7.98h-2.31zM572.12 366.77h2.31v9.09h-2.31zM574.39 400.56h2.31v7.98h-2.31zM576.66 430.14h2.31v11.08h-2.31zM578.93 435.13h2.31v6.09h-2.31zM581.20 421.83h2.31v2.22h-2.31zM583.47 414.63h2.31v5.54h-2.31zM585.74 412.42h2.31v2.21h-2.31zM588.01 439.00h2.31v3.33h-2.31zM590.28 422.94h2.31v8.86h-2.31zM592.55 401.12h2.31v10.74h-2.31zM594.82 388.16h2.31v8.75h-2.31zM597.09 398.90h2.31v4.10h-2.31zM599.37 430.14h2.31v4.43h-2.31zM601.64 502.93h2.31v8.30h-2.31zM603.91 470.02h2.31v5.54h-2.31zM606.18 447.87h2.31v3.32h-2.31zM608.45 419.06h2.31v7.76h-2.31zM610.72 396.91h2.31v8.86h-2.31zM612.99 405.77h2.31v4.43h-2.31zM615.26 435.68h2.31v8.86h-2.31zM617.53 443.44h2.31v7.20h-2.31zM619.80 407.99h2.31v2.76h-2.31zM622.07 398.01h2.31v9.98h-2.31zM624.34 400.23h2.31v8.31h-2.31zM626.61 440.11h2.31v6.65h-2.31zM628.88 495.17h2.31v3.32h-2.31zM631.15 405.22h2.31v4.43h-2.31zM633.42 434.02h2.31v2.77h-2.31zM635.69 426.82h2.31v3.88h-2.31zM637.96 448.42h2.31v6.65h-2.31zM640.23 428.48h2.31v2.77h-2.31zM642.50 441.77h2.31v2.22h-2.31zM644.78 472.24h2.31v7.42h-2.31zM647.05 446.21h2.31v1.66h-2.31zM649.32 492.96h2.31v2.77h-2.31zM651.59 520.65h2.31v4.43h-2.31zM653.86 447.31h2.31v4.99h-2.31zM656.13 414.08h2.31v9.97h-2.31zM658.40 418.51h2.31v4.43h-2.31zM660.67 403.00h2.31v1.66h-2.31zM662.94 399.45h2.31v6.87h-2.31zM665.21 406.88h2.31v4.98h-2.31zM667.48 420.17h2.31v10.53h-2.31zM669.75 426.82h2.31v7.75h-2.31zM672.02 432.36h2.31v7.75h-2.31zM674.29 419.06h2.31v6.65h-2.31zM676.56 396.91h2.31v6.09h-2.31zM678.83 424.05h2.31v4.98h-2.31zM681.10 430.14h2.31v3.88h-2.31zM683.37 451.74h2.31v5.54h-2.31zM685.64 412.97h2.31v8.31h-2.31zM687.91 419.62h2.31v5.54h-2.31zM690.18 479.66h2.31v4.43h-2.31zM692.46 416.85h2.31v4.43h-2.31zM694.73 422.39h2.31v5.54h-2.31zM697.00 434.02h2.31v11.63h-2.31zM699.27 424.05h2.31v6.65h-2.31zM701.54 414.08h2.31v1.11h-2.31z"/>
<path fill="#a6cee3" d="M75.33 351.26h2.31v1.33h-2.31zM77.60 379.51h2.31v9.75h-2.31zM79.87 418.51h2.31v13.29h-2.31zM82.14 408.54h2.31v24.93h-2.31zM84.41 419.62h2.31v24.37h-2.31zM86.68 431.25h2.31v22.71h-2.31zM88.95 420.17h2.31v28.25h-2.31zM91.22 416.85h2.31v23.26h-2.31zM93.49 378.96h2.31v11.96h-2.31zM98.00 352.15h2.31v1.33h-2.31zM100.27 388.38h2.31v2.54h-2.31zM102.53 360.13h2.31v1.10h-2.31zM104.80 385.61h2.31v2.21h-2.31zM107.07 484.09h2.31v1.66h-2.31zM109.33 351.26h2.31v1.67h-2.31zM111.60 359.57h2.31v0.78h-2.31zM113.87 360.68h2.31v2.55h-2.31zM116.13 380.62h2.31v3.33h-2.31zM118.40 482.43h2.31v1.66h-2.31zM120.67 436.23h2.31v13.30h-2.31zM122.93 424.05h2.31v1.11h-2.31zM125.20 489.63h2.31v8.86h-2.31zM127.47 422.39h2.31v16.61h-2.31zM129.73 475.56h2.31v7.98h-2.31zM132.00 392.03h2.31v7.76h-2.31zM134.27 451.19h2.31v1.88h-2.31zM136.53 425.71h2.31v2.22h-2.31zM138.80 429.59h2.31v4.43h-2.31zM141.07 384.28h2.31v1.11h-2.31zM143.33 480.22h2.31v7.75h-2.31zM145.60 479.66h2.31v8.86h-2.31zM147.87 460.61h2.31v2.21h-2.31zM150.13 451.74h2.31v14.96h-2.31zM152.40 403.00h2.31v4.43h-2.31zM154.67 437.90h2.31v5.54h-2.31zM156.93 449.53h2.31v6.65h-2.31zM159.20 463.93h2.31v3.32h-2.31zM161.47 453.41h2.31v10.52h-2.31zM163.73 411.86h2.31v10.53h-2.31zM166.00 473.90h2.31v6.32h-2.31zM168.27 455.62h2.31v9.42h-2.31zM170.53 387.27h2.31v4.98h-2.31zM172.80 457.28h2.31v5.54h-2.31zM175.07 442.33h2.31v11.63h-2.31zM177.33 432.36h2.31v8.31h-2.31zM179.60 366.22h2.31v4.99h-2.31zM181.87 468.36h2.31v8.86h-2.31zM184.13 362.12h2.31v1.88h-2.31zM186.40 457.28h2.31v11.08h-2.31zM188.67 399.12h2.31v10.53h-2.31zM190.93 446.76h2.31v10.52h-2.31zM193.20 450.64h2.31v12.18h-2.31zM195.47 378.96h2.31v3.10h-2.31zM197.73 467.81h2.31v4.98h-2.31zM200.00 437.90h2.31v13.84h-2.31zM202.27 485.20h2.31v9.97h-2.31zM204.53 410.75h2.31v7.76h-2.31zM206.80 442.33h2.31v3.32h-2.31zM209.07 437.90h2.31v3.32h-2.31zM211.34 453.96h2.31v12.19h-2.31zM213.60 460.61h2.31v8.31h-2.31zM215.87 387.82h2.31v6.43h-2.31zM218.14 405.22h2.31v2.21h-2.31zM220.40 441.22h2.31v11.08h-2.31zM222.67 434.02h2.31v4.43h-2.31zM224.94 407.99h2.31v9.97h-2.31zM227.20 445.10h2.31v20.49h-2.31zM229.47 431.25h2.31v24.37h-2.31zM231.74 400.01h2.31v7.98h-2.31zM234.00 399.45h2.31v5.77h-2.31zM236.27 443.44h2.31v8.86h-2.31zM238.54 457.84h2.31v14.95h-2.31zM240.80 394.25h2.31v2.66h-2.31zM243.07 449.53h2.31v7.75h-2.31zM245.34 430.14h2.31v8.86h-2.31zM247.60 426.26h2.31v16.62h-2.31zM249.87 466.15h2.31v6.09h-2.31zM252.14 430.14h2.31v8.86h-2.31zM254.40 431.25h2.31v4.98h-2.31zM256.67 381.18h2.31v1.88h-2.31zM258.94 402.00h2.31v3.22h-2.31zM261.20 445.10h2.31v9.41h-2.31zM263.47 434.57h2.31v12.19h-2.31zM265.74 403.00h2.31v6.09h-2.31zM268.00 447.31h2.31v1.66h-2.31zM270.27 435.68h2.31v9.42h-2.31zM272.54 450.08h2.31v4.99h-2.31zM274.80 472.79h2.31v2.77h-2.31zM277.07 386.16h2.31v5.87h-2.31zM279.34 437.90h2.31v9.41h-2.31zM281.60 446.76h2.31v21.05h-2.31zM283.87 424.60h2.31v17.17h-2.31zM286.14 439.00h2.31v3.88h-2.31zM288.40 461.71h2.31v11.64h-2.31zM290.67 429.59h2.31v14.40h-2.31zM292.94 385.05h2.31v5.87h-2.31zM295.20 440.67h2.31v3.87h-2.31zM297.47 430.70h2.31v13.29h-2.31zM299.74 450.08h2.31v17.73h-2.31zM304.20 367.33h2.31v2.77h-2.31zM306.47 338.19h2.31v0.67h-2.31zM308.74 523.42h2.31v3.88h-2.31zM311.01 482.43h2.31v16.62h-2.31zM313.28 390.04h2.31v6.87h-2.31zM315.55 388.38h2.31v9.41h-2.31zM317.82 466.15h2.31v3.87h-2.31zM320.09 451.74h2.31v4.21h-2.31zM322.36 413.52h2.31v2.55h-2.31zM324.63 354.92h2.31v2.99h-2.31zM326.90 492.40h2.31v11.63h-2.31zM329.18 386.16h2.31v4.76h-2.31zM331.45 430.70h2.31v9.41h-2.31zM333.72 428.48h2.31v13.29h-2.31zM335.99 393.92h2.31v2.99h-2.31zM338.26 397.79h2.31v5.21h-2.31zM340.53 413.52h2.31v16.07h-2.31zM342.80 461.71h2.31v4.44h-2.31zM345.07 401.12h2.31v7.97h-2.31zM347.34 371.43h2.31v3.99h-2.31zM349.61 410.20h2.31v9.42h-2.31zM351.88 531.18h2.31v9.97h-2.31zM354.15 432.91h2.31v6.09h-2.31zM356.42 402.00h2.31v5.99h-2.31zM358.69 447.31h2.31v15.51h-2.31zM360.96 459.50h2.31v9.42h-2.31zM363.23 412.42h2.31v6.64h-2.31zM365.50 443.99h2.31v6.09h-2.31zM367.77 411.31h2.31v6.65h-2.31zM370.04 376.52h2.31v2.99h-2.31zM372.31 445.65h2.31v9.42h-2.31zM374.59 378.96h2.31v3.88h-2.31zM376.86 449.53h2.31v9.42h-2.31zM379.13 366.00h2.31v4.98h-2.31zM381.40 395.58h2.31v28.47h-2.31zM383.67 363.23h2.31v2.77h-2.31zM385.94 438.45h2.31v3.32h-2.31zM388.21 368.44h2.31v1.66h-2.31zM390.48 454.51h2.31v4.99h-2.31zM392.75 371.21h2.31v5.53h-2.31zM395.02 367.33h2.31v1.66h-2.31zM397.29 396.13h2.31v3.88h-2.31zM399.56 493.51h2.31v13.29h-2.31zM401.83 500.16h2.31v9.97h-2.31zM404.10 375.42h2.31v6.31h-2.31zM406.37 407.99h2.31v7.75h-2.31zM408.64 502.93h2.31v3.87h-2.31zM410.91 370.98h2.31v4.10h-2.31zM413.18 357.69h2.31v2.99h-2.31zM415.45 458.95h2.31v13.84h-2.31zM417.73 432.36h2.31v4.98h-2.31zM420.00 357.03h2.31v3.98h-2.31zM422.27 463.93h2.31v3.32h-2.31zM424.54 345.17h2.31v1.11h-2.31zM426.81 463.38h2.31v6.64h-2.31zM429.08 411.86h2.31v3.33h-2.31zM431.35 362.12h2.31v2.99h-2.31zM433.62 385.39h2.31v3.54h-2.31zM435.89 400.90h2.31v5.98h-2.31zM438.16 412.42h2.31v9.97h-2.31zM440.43 412.42h2.31v7.75h-2.31zM444.97 393.36h2.31v3.55h-2.31zM447.24 399.45h2.31v5.21h-2.31zM449.51 405.22h2.31v12.74h-2.31zM451.78 390.04h2.31v6.87h-2.31zM454.05 463.93h2.31v3.88h-2.31zM456.32 362.12h2.31v2.66h-2.31zM458.59 377.63h2.31v2.99h-2.31zM460.86 400.56h2.31v3.55h-2.31zM463.13 385.39h2.31v6.64h-2.31zM465.41 436.23h2.31v10.53h-2.31zM467.68 369.88h2.31v3.54h-2.31zM469.95 423.49h2.31v12.19h-2.31zM472.22 414.63h2.31v6.10h-2.31zM474.49 391.15h2.31v6.09h-2.31zM476.76 449.53h2.31v8.86h-2.31zM479.03 397.24h2.31v9.64h-2.31zM481.30 383.17h2.31v7.75h-2.31zM483.57 432.36h2.31v2.77h-2.31zM485.84 431.80h2.31v12.19h-2.31zM488.11 393.36h2.31v7.76h-2.31zM490.38 388.93h2.31v6.09h-2.31zM494.92 484.65h2.31v7.75h-2.31zM497.19 437.90h2.31v7.20h-2.31zM499.46 390.92h2.31v3.55h-2.31zM501.73 395.02h2.31v6.10h-2.31zM504.00 426.82h2.31v5.54h-2.31zM506.27 432.36h2.31v7.75h-2.31zM508.55 383.06h2.31v5.87h-2.31zM510.82 412.97h2.31v34.90h-2.31zM513.09 455.62h2.31v16.07h-2.31zM515.36 397.79h2.31v9.64h-2.31zM517.63 452.30h2.31v5.54h-2.31zM519.90 438.45h2.31v7.20h-2.31zM522.17 376.19h2.31v2.77h-2.31zM524.44 436.23h2.31v24.38h-2.31zM526.71 416.85h2.31v3.88h-2.31zM528.98 410.75h2.31v19.39h-2.31zM535.79 396.46h2.31v7.09h-2.31zM538.06 410.20h2.31v6.09h-2.31zM540.33 421.83h2.31v9.42h-2.31zM542.60 432.36h2.31v5.54h-2.31zM544.87 382.06h2.31v14.85h-2.31zM547.14 417.40h2.31v6.09h-2.31zM549.41 360.13h2.31v1.66h-2.31zM551.68 409.65h2.31v10.52h-2.31zM553.96 392.03h2.31v16.51h-2.31zM556.23 396.13h2.31v9.09h-2.31zM558.50 374.31h2.31v2.21h-2.31zM560.77 425.16h2.31v11.07h-2.31zM563.04 444.54h2.31v1.11h-2.31zM565.31 430.70h2.31v34.34h-2.31zM567.58 443.44h2.31v0.55h-2.31zM569.85 372.65h2.31v8.30h-2.31zM572.12 362.12h2.31v4.65h-2.31zM574.39 395.02h2.31v5.54h-2.31zM576.66 410.75h2.31v19.39h-2.31zM578.93 408.54h2.31v26.59h-2.31zM581.20 406.32h2.31v15.51h-2.31zM583.47 409.09h2.31v5.54h-2.31zM585.74 406.88h2.31v5.54h-2.31zM588.01 429.03h2.31v9.97h-2.31zM590.28 414.08h2.31v8.86h-2.31zM592.55 382.06h2.31v19.06h-2.31zM594.82 383.39h2.31v4.77h-2.31zM597.09 385.61h2.31v13.29h-2.31zM599.37 417.96h2.31v12.18h-2.31zM603.91 460.61h2.31v9.41h-2.31zM606.18 441.22h2.31v6.65h-2.31zM608.45 406.32h2.31v12.74h-2.31zM610.72 386.94h2.31v9.97h-2.31zM612.99 402.00h2.31v3.77h-2.31zM615.26 425.71h2.31v9.97h-2.31zM617.53 434.57h2.31v8.87h-2.31zM619.80 392.03h2.31v15.96h-2.31zM622.07 382.28h2.31v15.73h-2.31zM624.34 387.82h2.31v12.41h-2.31zM626.61 427.37h2.31v12.74h-2.31zM628.88 471.69h2.31v23.48h-2.31zM631.15 396.13h2.31v9.09h-2.31zM633.42 416.85h2.31v17.17h-2.31zM635.69 417.96h2.31v8.86h-2.31zM637.96 440.11h2.31v8.31h-2.31zM640.23 399.79h2.31v28.69h-2.31zM642.50 431.80h2.31v9.97h-2.31zM644.78 432.36h2.31v39.88h-2.31zM647.05 432.91h2.31v13.30h-2.31zM649.32 486.86h2.31v6.10h-2.31zM651.59 505.70h2.31v14.95h-2.31zM653.86 439.00h2.31v8.31h-2.31zM656.13 409.65h2.31v4.43h-2.31zM658.40 410.75h2.31v7.76h-2.31zM660.67 395.02h2.31v7.98h-2.31zM662.94 383.39h2.31v16.06h-2.31zM665.21 398.01h2.31v8.87h-2.31zM667.48 403.00h2.31v17.17h-2.31zM669.75 397.79h2.31v29.03h-2.31zM672.02 405.22h2.31v27.14h-2.31zM674.29 416.29h2.31v2.77h-2.31zM676.56 388.71h2.31v8.20h-2.31zM678.83 419.06h2.31v4.99h-2.31zM681.10 426.26h2.31v3.88h-2.31zM683.37 436.79h2.31v14.95h-2.31zM685.64 407.43h2.31v5.54h-2.31zM687.91 415.74h2.31v3.88h-2.31zM690.18 460.61h2.31v19.05h-2.31zM692.46 401.34h2.31v15.51h-2.31zM694.73 411.86h2.31v10.53h-2.31zM697.00 423.49h2.31v10.53h-2.31zM699.27 420.17h2.31v3.88h-2.31zM701.54 403.00h2.31v11.08h-2.31z"/>
<text class="r" style="font-size:23.2px" transform="translate(27,475.9) rotate(-90)" text-anchor="middle">Relative abundance (%)</text>
<text class="r" style="font-size:23.3px" x="69.9" y="335.3" text-anchor="end">00</text>
<path d="M39.4 318.1H40.3V334.7H38V322.4L34 324.5V322.4Z" fill="#000"/>
<text class="r" style="font-size:23.4px" x="73.1" y="634.1" text-anchor="end">0</text>
<path d="M86.3 633.7H87.3V649.9H85.1V637.1L81 639.3V637Z" fill="#000"/>
<text class="r" x="193.8" y="650.4" text-anchor="middle">2</text>
<text class="r" x="507.3" y="650.9" text-anchor="middle">3</text>
<text class="r" x="370.3" y="676.3" text-anchor="middle">Batch</text>
<rect x="710.8" y="329.50" width="16.4" height="16.4" fill="#bebebe"/>
<text class="r" style="font-size:23.1px" x="731.3" y="346.10">All other</text>
<rect x="710.8" y="357.57" width="16.4" height="16.4" fill="#de2d26"/>
<text class="r" style="font-size:23.1px" x="731.3" y="374.17">Sphingomonadaceae</text>
<rect x="710.8" y="385.64" width="16.4" height="16.4" fill="#3182bd"/>
<text class="r" style="font-size:23.1px" x="731.3" y="402.24">Pseudomonadaceae</text>
<rect x="710.8" y="413.71" width="16.4" height="16.4" fill="#8dd3c7"/>
<text class="r" style="font-size:23.1px" x="731.3" y="430.31">Sphingobacteriaceae</text>
<rect x="710.8" y="441.78" width="16.4" height="16.4" fill="#b15928"/>
<text class="r" style="font-size:23.1px" x="731.3" y="458.38">Oxalobacteraceae</text>
<rect x="710.8" y="469.85" width="16.4" height="16.4" fill="#f5821f"/>
<text class="r" style="font-size:23.1px" x="731.3" y="486.45">Hymenobacteraceae</text>
<rect x="710.8" y="497.92" width="16.4" height="16.4" fill="#b87fbd"/>
<text class="r" style="font-size:23.1px" x="731.3" y="514.52">Flavobacteriaceae</text>
<rect x="710.8" y="525.99" width="16.4" height="16.4" fill="#6a3d9a"/>
<text class="r" style="font-size:23.1px" x="731.3" y="542.59">Cytophagaceae</text>
<rect x="710.8" y="554.06" width="16.4" height="16.4" fill="#f59b98"/>
<text class="r" style="font-size:23.1px" x="731.3" y="570.66">Comamonadaceae</text>
<rect x="710.8" y="582.13" width="16.4" height="16.4" fill="#2f9e44"/>
<text class="r" style="font-size:23.1px" x="731.3" y="598.73">Microbacteriaceae</text>
<rect x="710.8" y="610.20" width="16.4" height="16.4" fill="#a6cee3"/>
<text class="r" style="font-size:23.1px" x="731.3" y="626.80">Methylobacteriaceae</text>
</svg>
</body></html>
